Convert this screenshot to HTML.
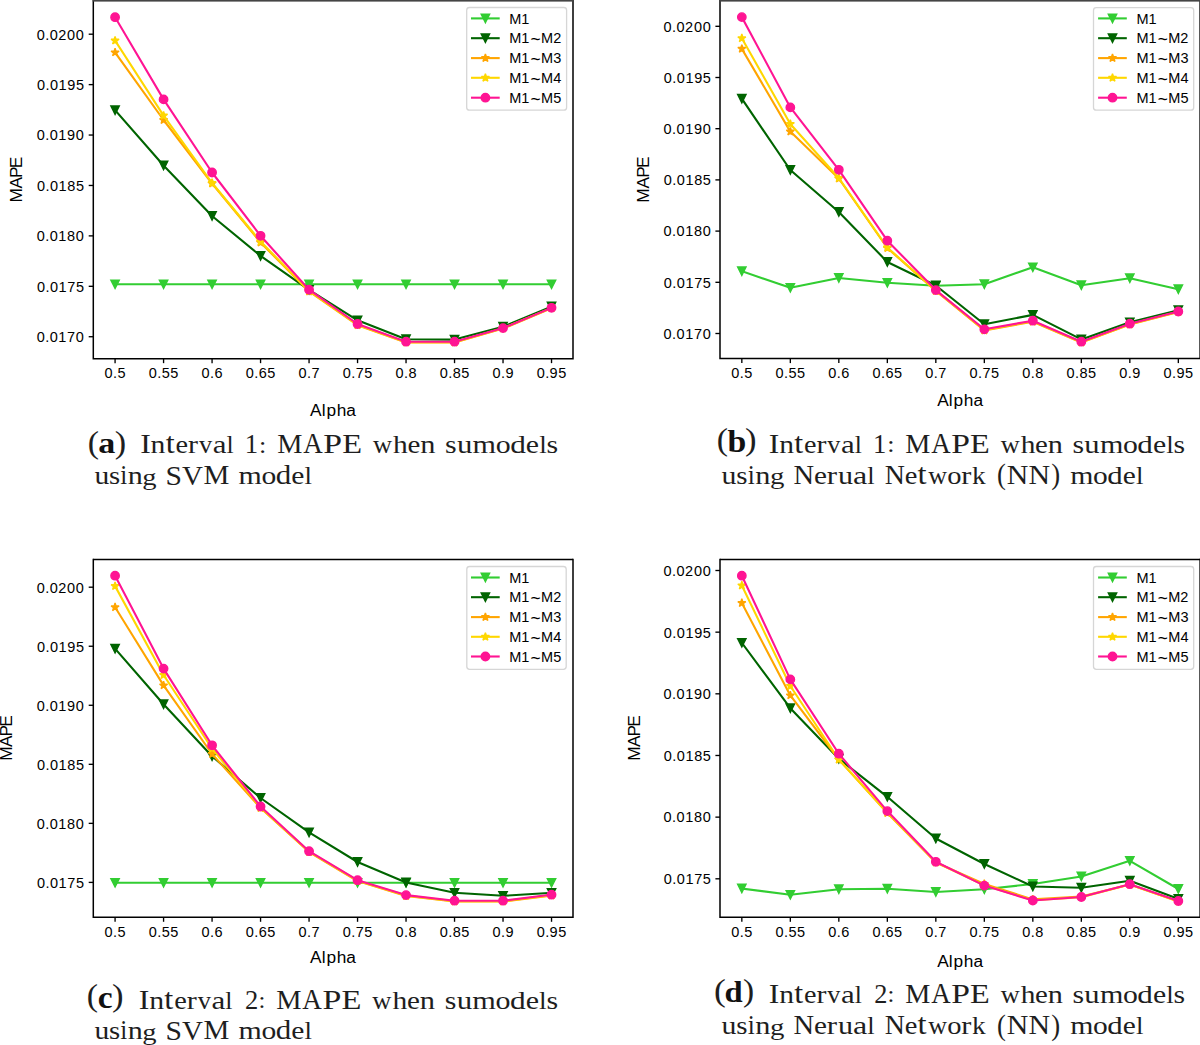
<!DOCTYPE html>
<html><head><meta charset="utf-8"><title>MAPE vs Alpha</title>
<style>
html,body{margin:0;padding:0;background:#fff;}
body{width:1200px;height:1045px;overflow:hidden;}
svg{display:block;}
svg text{font-family:"Liberation Sans", sans-serif;fill:#000;font-kerning:none;white-space:pre;}
svg text.sf{font-family:"Liberation Serif", serif;fill:#1e1e1e;}
svg text.sfb{font-family:"Liberation Serif", serif;font-weight:bold;fill:#111;}
</style></head><body>
<svg width="1200" height="1045" viewBox="0 0 1200 1045">
<defs><clipPath id="clipa"><rect x="87.30" y="-5.60" width="491.70" height="370.25"/></clipPath>
<clipPath id="clipb"><rect x="714.00" y="-5.60" width="492.10" height="370.20"/></clipPath>
<clipPath id="clipc"><rect x="87.30" y="553.40" width="491.70" height="369.90"/></clipPath>
<clipPath id="clipd"><rect x="714.00" y="553.40" width="492.10" height="369.90"/></clipPath></defs>
<rect width="1200" height="1045" fill="#fff"/>
<g clip-path="url(#clipa)">
<path d="M115.08 284.30L163.57 284.30L212.07 284.30L260.56 284.30L309.06 284.30L357.55 284.30L406.04 284.30L454.54 284.30L503.03 284.30L551.53 284.30" fill="none" stroke="#32cd32" stroke-width="2.10" stroke-linejoin="round" stroke-linecap="square"/>
<path d="M110.88 280.10L119.28 280.10L115.08 288.50Z" fill="#32cd32" stroke="#32cd32" stroke-width="1.40" stroke-linejoin="miter"/>
<path d="M159.37 280.10L167.77 280.10L163.57 288.50Z" fill="#32cd32" stroke="#32cd32" stroke-width="1.40" stroke-linejoin="miter"/>
<path d="M207.87 280.10L216.27 280.10L212.07 288.50Z" fill="#32cd32" stroke="#32cd32" stroke-width="1.40" stroke-linejoin="miter"/>
<path d="M256.36 280.10L264.76 280.10L260.56 288.50Z" fill="#32cd32" stroke="#32cd32" stroke-width="1.40" stroke-linejoin="miter"/>
<path d="M304.86 280.10L313.26 280.10L309.06 288.50Z" fill="#32cd32" stroke="#32cd32" stroke-width="1.40" stroke-linejoin="miter"/>
<path d="M353.35 280.10L361.75 280.10L357.55 288.50Z" fill="#32cd32" stroke="#32cd32" stroke-width="1.40" stroke-linejoin="miter"/>
<path d="M401.84 280.10L410.24 280.10L406.04 288.50Z" fill="#32cd32" stroke="#32cd32" stroke-width="1.40" stroke-linejoin="miter"/>
<path d="M450.34 280.10L458.74 280.10L454.54 288.50Z" fill="#32cd32" stroke="#32cd32" stroke-width="1.40" stroke-linejoin="miter"/>
<path d="M498.83 280.10L507.23 280.10L503.03 288.50Z" fill="#32cd32" stroke="#32cd32" stroke-width="1.40" stroke-linejoin="miter"/>
<path d="M547.33 280.10L555.73 280.10L551.53 288.50Z" fill="#32cd32" stroke="#32cd32" stroke-width="1.40" stroke-linejoin="miter"/>
<path d="M115.08 110.20L163.57 165.50L212.07 216.00L260.56 255.90L309.06 289.80L357.55 320.30L406.04 339.20L454.54 339.60L503.03 326.70L551.53 306.50" fill="none" stroke="#006400" stroke-width="2.10" stroke-linejoin="round" stroke-linecap="square"/>
<path d="M110.88 106.00L119.28 106.00L115.08 114.40Z" fill="#006400" stroke="#006400" stroke-width="1.40" stroke-linejoin="miter"/>
<path d="M159.37 161.30L167.77 161.30L163.57 169.70Z" fill="#006400" stroke="#006400" stroke-width="1.40" stroke-linejoin="miter"/>
<path d="M207.87 211.80L216.27 211.80L212.07 220.20Z" fill="#006400" stroke="#006400" stroke-width="1.40" stroke-linejoin="miter"/>
<path d="M256.36 251.70L264.76 251.70L260.56 260.10Z" fill="#006400" stroke="#006400" stroke-width="1.40" stroke-linejoin="miter"/>
<path d="M304.86 285.60L313.26 285.60L309.06 294.00Z" fill="#006400" stroke="#006400" stroke-width="1.40" stroke-linejoin="miter"/>
<path d="M353.35 316.10L361.75 316.10L357.55 324.50Z" fill="#006400" stroke="#006400" stroke-width="1.40" stroke-linejoin="miter"/>
<path d="M401.84 335.00L410.24 335.00L406.04 343.40Z" fill="#006400" stroke="#006400" stroke-width="1.40" stroke-linejoin="miter"/>
<path d="M450.34 335.40L458.74 335.40L454.54 343.80Z" fill="#006400" stroke="#006400" stroke-width="1.40" stroke-linejoin="miter"/>
<path d="M498.83 322.50L507.23 322.50L503.03 330.90Z" fill="#006400" stroke="#006400" stroke-width="1.40" stroke-linejoin="miter"/>
<path d="M547.33 302.30L555.73 302.30L551.53 310.70Z" fill="#006400" stroke="#006400" stroke-width="1.40" stroke-linejoin="miter"/>
<path d="M115.08 52.40L163.57 120.00L212.07 183.50L260.56 242.50L309.06 291.50L357.55 325.20L406.04 342.50L454.54 342.50L503.03 328.60L551.53 308.20" fill="none" stroke="#ffa500" stroke-width="2.10" stroke-linejoin="round" stroke-linecap="square"/>
<path d="M115.08 48.20L116.02 51.10L119.07 51.10L116.61 52.90L117.55 55.80L115.08 54.00L112.61 55.80L113.55 52.90L111.09 51.10L114.14 51.10Z" fill="#ffa500" stroke="#ffa500" stroke-width="1.40" stroke-linejoin="bevel"/>
<path d="M163.57 115.80L164.52 118.70L167.57 118.70L165.10 120.50L166.04 123.40L163.57 121.60L161.11 123.40L162.05 120.50L159.58 118.70L162.63 118.70Z" fill="#ffa500" stroke="#ffa500" stroke-width="1.40" stroke-linejoin="bevel"/>
<path d="M212.07 179.30L213.01 182.20L216.06 182.20L213.59 184.00L214.54 186.90L212.07 185.10L209.60 186.90L210.54 184.00L208.07 182.20L211.13 182.20Z" fill="#ffa500" stroke="#ffa500" stroke-width="1.40" stroke-linejoin="bevel"/>
<path d="M260.56 238.30L261.50 241.20L264.56 241.20L262.09 243.00L263.03 245.90L260.56 244.10L258.09 245.90L259.04 243.00L256.57 241.20L259.62 241.20Z" fill="#ffa500" stroke="#ffa500" stroke-width="1.40" stroke-linejoin="bevel"/>
<path d="M309.06 287.30L310.00 290.20L313.05 290.20L310.58 292.00L311.52 294.90L309.06 293.10L306.59 294.90L307.53 292.00L305.06 290.20L308.11 290.20Z" fill="#ffa500" stroke="#ffa500" stroke-width="1.40" stroke-linejoin="bevel"/>
<path d="M357.55 321.00L358.49 323.90L361.54 323.90L359.08 325.70L360.02 328.60L357.55 326.80L355.08 328.60L356.02 325.70L353.56 323.90L356.61 323.90Z" fill="#ffa500" stroke="#ffa500" stroke-width="1.40" stroke-linejoin="bevel"/>
<path d="M406.04 338.30L406.99 341.20L410.04 341.20L407.57 343.00L408.51 345.90L406.04 344.10L403.58 345.90L404.52 343.00L402.05 341.20L405.10 341.20Z" fill="#ffa500" stroke="#ffa500" stroke-width="1.40" stroke-linejoin="bevel"/>
<path d="M454.54 338.30L455.48 341.20L458.53 341.20L456.06 343.00L457.01 345.90L454.54 344.10L452.07 345.90L453.01 343.00L450.54 341.20L453.60 341.20Z" fill="#ffa500" stroke="#ffa500" stroke-width="1.40" stroke-linejoin="bevel"/>
<path d="M503.03 324.40L503.97 327.30L507.03 327.30L504.56 329.10L505.50 332.00L503.03 330.20L500.56 332.00L501.51 329.10L499.04 327.30L502.09 327.30Z" fill="#ffa500" stroke="#ffa500" stroke-width="1.40" stroke-linejoin="bevel"/>
<path d="M551.53 304.00L552.47 306.90L555.52 306.90L553.05 308.70L553.99 311.60L551.53 309.80L549.06 311.60L550.00 308.70L547.53 306.90L550.58 306.90Z" fill="#ffa500" stroke="#ffa500" stroke-width="1.40" stroke-linejoin="bevel"/>
<path d="M115.08 40.60L163.57 115.60L212.07 183.00L260.56 241.50L309.06 291.00L357.55 324.70L406.04 342.20L454.54 342.20L503.03 328.30L551.53 308.00" fill="none" stroke="#ffd700" stroke-width="2.10" stroke-linejoin="round" stroke-linecap="square"/>
<path d="M115.08 36.40L116.02 39.30L119.07 39.30L116.61 41.10L117.55 44.00L115.08 42.20L112.61 44.00L113.55 41.10L111.09 39.30L114.14 39.30Z" fill="#ffd700" stroke="#ffd700" stroke-width="1.40" stroke-linejoin="bevel"/>
<path d="M163.57 111.40L164.52 114.30L167.57 114.30L165.10 116.10L166.04 119.00L163.57 117.20L161.11 119.00L162.05 116.10L159.58 114.30L162.63 114.30Z" fill="#ffd700" stroke="#ffd700" stroke-width="1.40" stroke-linejoin="bevel"/>
<path d="M212.07 178.80L213.01 181.70L216.06 181.70L213.59 183.50L214.54 186.40L212.07 184.60L209.60 186.40L210.54 183.50L208.07 181.70L211.13 181.70Z" fill="#ffd700" stroke="#ffd700" stroke-width="1.40" stroke-linejoin="bevel"/>
<path d="M260.56 237.30L261.50 240.20L264.56 240.20L262.09 242.00L263.03 244.90L260.56 243.10L258.09 244.90L259.04 242.00L256.57 240.20L259.62 240.20Z" fill="#ffd700" stroke="#ffd700" stroke-width="1.40" stroke-linejoin="bevel"/>
<path d="M309.06 286.80L310.00 289.70L313.05 289.70L310.58 291.50L311.52 294.40L309.06 292.60L306.59 294.40L307.53 291.50L305.06 289.70L308.11 289.70Z" fill="#ffd700" stroke="#ffd700" stroke-width="1.40" stroke-linejoin="bevel"/>
<path d="M357.55 320.50L358.49 323.40L361.54 323.40L359.08 325.20L360.02 328.10L357.55 326.30L355.08 328.10L356.02 325.20L353.56 323.40L356.61 323.40Z" fill="#ffd700" stroke="#ffd700" stroke-width="1.40" stroke-linejoin="bevel"/>
<path d="M406.04 338.00L406.99 340.90L410.04 340.90L407.57 342.70L408.51 345.60L406.04 343.80L403.58 345.60L404.52 342.70L402.05 340.90L405.10 340.90Z" fill="#ffd700" stroke="#ffd700" stroke-width="1.40" stroke-linejoin="bevel"/>
<path d="M454.54 338.00L455.48 340.90L458.53 340.90L456.06 342.70L457.01 345.60L454.54 343.80L452.07 345.60L453.01 342.70L450.54 340.90L453.60 340.90Z" fill="#ffd700" stroke="#ffd700" stroke-width="1.40" stroke-linejoin="bevel"/>
<path d="M503.03 324.10L503.97 327.00L507.03 327.00L504.56 328.80L505.50 331.70L503.03 329.90L500.56 331.70L501.51 328.80L499.04 327.00L502.09 327.00Z" fill="#ffd700" stroke="#ffd700" stroke-width="1.40" stroke-linejoin="bevel"/>
<path d="M551.53 303.80L552.47 306.70L555.52 306.70L553.05 308.50L553.99 311.40L551.53 309.60L549.06 311.40L550.00 308.50L547.53 306.70L550.58 306.70Z" fill="#ffd700" stroke="#ffd700" stroke-width="1.40" stroke-linejoin="bevel"/>
<path d="M115.08 17.20L163.57 99.40L212.07 172.50L260.56 235.80L309.06 289.70L357.55 324.00L406.04 341.70L454.54 341.70L503.03 328.10L551.53 307.80" fill="none" stroke="#ff1493" stroke-width="2.10" stroke-linejoin="round" stroke-linecap="square"/>
<circle cx="115.08" cy="17.20" r="4.20" fill="#ff1493" stroke="#ff1493" stroke-width="1.40"/>
<circle cx="163.57" cy="99.40" r="4.20" fill="#ff1493" stroke="#ff1493" stroke-width="1.40"/>
<circle cx="212.07" cy="172.50" r="4.20" fill="#ff1493" stroke="#ff1493" stroke-width="1.40"/>
<circle cx="260.56" cy="235.80" r="4.20" fill="#ff1493" stroke="#ff1493" stroke-width="1.40"/>
<circle cx="309.06" cy="289.70" r="4.20" fill="#ff1493" stroke="#ff1493" stroke-width="1.40"/>
<circle cx="357.55" cy="324.00" r="4.20" fill="#ff1493" stroke="#ff1493" stroke-width="1.40"/>
<circle cx="406.04" cy="341.70" r="4.20" fill="#ff1493" stroke="#ff1493" stroke-width="1.40"/>
<circle cx="454.54" cy="341.70" r="4.20" fill="#ff1493" stroke="#ff1493" stroke-width="1.40"/>
<circle cx="503.03" cy="328.10" r="4.20" fill="#ff1493" stroke="#ff1493" stroke-width="1.40"/>
<circle cx="551.53" cy="307.80" r="4.20" fill="#ff1493" stroke="#ff1493" stroke-width="1.40"/>
</g>
<path d="M93.30 0.40V358.65H573.00V0.40" fill="none" stroke="#000" stroke-width="1.50" stroke-linecap="square"/>
<rect x="92.70" y="0" width="480.90" height="1.6" fill="#454545"/>
<path d="M115.08 358.65V363.15" stroke="#000" stroke-width="1.35"/>
<text x="104.53 113.06 117.50" y="378.30" font-size="14.50">0.5</text>
<path d="M163.57 358.65V363.15" stroke="#000" stroke-width="1.35"/>
<text x="148.68 157.21 161.66 170.34" y="378.30" font-size="14.50">0.55</text>
<path d="M212.07 358.65V363.15" stroke="#000" stroke-width="1.35"/>
<text x="201.52 210.05 214.54" y="378.30" font-size="14.50">0.6</text>
<path d="M260.56 358.65V363.15" stroke="#000" stroke-width="1.35"/>
<text x="245.67 254.20 258.70 267.33" y="378.30" font-size="14.50">0.65</text>
<path d="M309.06 358.65V363.15" stroke="#000" stroke-width="1.35"/>
<text x="298.51 307.04 311.51" y="378.30" font-size="14.50">0.7</text>
<path d="M357.55 358.65V363.15" stroke="#000" stroke-width="1.35"/>
<text x="342.66 351.19 355.66 364.32" y="378.30" font-size="14.50">0.75</text>
<path d="M406.04 358.65V363.15" stroke="#000" stroke-width="1.35"/>
<text x="395.50 404.02 408.52" y="378.30" font-size="14.50">0.8</text>
<path d="M454.54 358.65V363.15" stroke="#000" stroke-width="1.35"/>
<text x="439.65 448.17 452.67 461.30" y="378.30" font-size="14.50">0.85</text>
<path d="M503.03 358.65V363.15" stroke="#000" stroke-width="1.35"/>
<text x="492.48 501.01 505.47" y="378.30" font-size="14.50">0.9</text>
<path d="M551.53 358.65V363.15" stroke="#000" stroke-width="1.35"/>
<text x="536.64 545.16 549.62 558.29" y="378.30" font-size="14.50">0.95</text>
<path d="M88.70 34.20H93.30" stroke="#000" stroke-width="1.35"/>
<text x="36.65 45.18 49.68 58.18 67.04 75.73" y="39.55" font-size="14.50">0.0200</text>
<path d="M88.70 84.62H93.30" stroke="#000" stroke-width="1.35"/>
<text x="36.94 45.46 49.96 58.57 67.29 75.96" y="89.97" font-size="14.50">0.0195</text>
<path d="M88.70 135.04H93.30" stroke="#000" stroke-width="1.35"/>
<text x="36.65 45.18 49.68 58.28 67.00 75.73" y="140.39" font-size="14.50">0.0190</text>
<path d="M88.70 185.46H93.30" stroke="#000" stroke-width="1.35"/>
<text x="36.94 45.46 49.96 58.57 67.33 75.96" y="190.81" font-size="14.50">0.0185</text>
<path d="M88.70 235.88H93.30" stroke="#000" stroke-width="1.35"/>
<text x="36.65 45.18 49.68 58.28 67.04 75.73" y="241.23" font-size="14.50">0.0180</text>
<path d="M88.70 286.30H93.30" stroke="#000" stroke-width="1.35"/>
<text x="36.94 45.46 49.96 58.57 67.30 75.96" y="291.65" font-size="14.50">0.0175</text>
<path d="M88.70 336.72H93.30" stroke="#000" stroke-width="1.35"/>
<text x="36.65 45.18 49.68 58.28 67.02 75.73" y="342.07" font-size="14.50">0.0170</text>
<text x="310.05 321.77 326.44 336.72 346.28" y="416.00" font-size="17.30">Alpha</text>
<text transform="translate(21.50 0) rotate(-90)" x="-202.59 -188.62 -177.91 -168.22" y="0.00" font-size="17.30">MAPE</text>
<rect x="466.70" y="7.50" width="99.90" height="102.70" rx="2.8" ry="2.8" fill="#fff" fill-opacity="0.8" stroke="#d6d6d6" stroke-width="1.3"/>
<path d="M471.00 18.40H499.70" stroke="#32cd32" stroke-width="2.10"/>
<path d="M481.20 14.20L489.60 14.20L485.40 22.60Z" fill="#32cd32" stroke="#32cd32" stroke-width="1.40" stroke-linejoin="miter"/>
<text x="509.21 521.37" y="23.50" font-size="14.50">M1</text>
<path d="M471.00 38.20H499.70" stroke="#006400" stroke-width="2.10"/>
<path d="M481.20 34.00L489.60 34.00L485.40 42.40Z" fill="#006400" stroke="#006400" stroke-width="1.40" stroke-linejoin="miter"/>
<text x="509.21 521.37 541.11 553.16" y="43.30" font-size="14.50">M1M2</text>
<text transform="matrix(0.17292 0 0 0.18809 530.492 45.266)" x="0" y="0" font-size="100.0">~</text>
<path d="M471.00 58.10H499.70" stroke="#ffa500" stroke-width="2.10"/>
<path d="M485.40 53.90L486.34 56.80L489.39 56.80L486.93 58.60L487.87 61.50L485.40 59.70L482.93 61.50L483.87 58.60L481.41 56.80L484.46 56.80Z" fill="#ffa500" stroke="#ffa500" stroke-width="1.40" stroke-linejoin="bevel"/>
<text x="509.21 521.37 541.11 553.36" y="63.20" font-size="14.50">M1M3</text>
<text transform="matrix(0.17292 0 0 0.18809 530.492 65.166)" x="0" y="0" font-size="100.0">~</text>
<path d="M471.00 77.80H499.70" stroke="#ffd700" stroke-width="2.10"/>
<path d="M485.40 73.60L486.34 76.50L489.39 76.50L486.93 78.30L487.87 81.20L485.40 79.40L482.93 81.20L483.87 78.30L481.41 76.50L484.46 76.50Z" fill="#ffd700" stroke="#ffd700" stroke-width="1.40" stroke-linejoin="bevel"/>
<text x="509.21 521.37 541.11 553.34" y="82.90" font-size="14.50">M1M4</text>
<text transform="matrix(0.17292 0 0 0.18809 530.492 84.866)" x="0" y="0" font-size="100.0">~</text>
<path d="M471.00 97.70H499.70" stroke="#ff1493" stroke-width="2.10"/>
<circle cx="485.40" cy="97.70" r="4.20" fill="#ff1493" stroke="#ff1493" stroke-width="1.40"/>
<text x="509.21 521.37 541.11 553.29" y="102.80" font-size="14.50">M1M5</text>
<text transform="matrix(0.17292 0 0 0.18809 530.492 104.766)" x="0" y="0" font-size="100.0">~</text>
<g role="img" aria-label="(a) Interval 1: MAPE when sumodels using SVM model">
<text class="sf" transform="matrix(0.33874 0 0 0.31045 87.711 453.141)" x="0" y="0" font-size="100.0">(</text>
<text class="sfb" transform="matrix(0.34023 0 0 0.29854 98.304 453.408)" x="0" y="0" font-size="100.0">a</text>
<text class="sf" transform="matrix(0.34263 0 0 0.31045 114.696 453.141)" x="0" y="0" font-size="100.0">)</text>
<text class="sf" transform="matrix(0.31880 0 0 0.27333 140.248 452.900)" x="0" y="0" font-size="100.0">I</text>
<text class="sf" transform="matrix(0.29648 0 0 0.24571 150.566 452.900)" x="0" y="0" font-size="100.0">n</text>
<text class="sf" transform="matrix(0.32223 0 0 0.28657 165.628 452.914)" x="0" y="0" font-size="100.0">t</text>
<text class="sf" transform="matrix(0.28241 0 0 0.25030 175.556 452.950)" x="0" y="0" font-size="100.0">e</text>
<text class="sf" transform="matrix(0.29984 0 0 0.24571 187.988 452.900)" x="0" y="0" font-size="100.0">r</text>
<text class="sf" transform="matrix(0.26388 0 0 0.24726 198.961 452.953)" x="0" y="0" font-size="100.0">v</text>
<text class="sf" transform="matrix(0.30965 0 0 0.25132 212.662 452.949)" x="0" y="0" font-size="100.0">a</text>
<text class="sf" transform="matrix(0.25664 0 0 0.26200 226.483 452.900)" x="0" y="0" font-size="100.0">l</text>
<text class="sf" transform="matrix(0.26729 0 0 0.26433 244.851 452.900)" x="0" y="0" font-size="100.0">1</text>
<text class="sf" transform="matrix(0.26304 0 0 0.23368 259.124 452.569)" x="0" y="0" font-size="100.0">:</text>
<text class="sf" transform="matrix(0.28335 0 0 0.27333 277.184 452.900)" x="0" y="0" font-size="100.0">M</text>
<text class="sf" transform="matrix(0.27035 0 0 0.28409 303.160 452.900)" x="0" y="0" font-size="100.0">A</text>
<text class="sf" transform="matrix(0.33759 0 0 0.27333 323.362 452.900)" x="0" y="0" font-size="100.0">P</text>
<text class="sf" transform="matrix(0.32494 0 0 0.27333 342.270 452.900)" x="0" y="0" font-size="100.0">E</text>
<text class="sf" transform="matrix(0.26450 0 0 0.24726 372.974 452.953)" x="0" y="0" font-size="100.0">w</text>
<text class="sf" transform="matrix(0.29432 0 0 0.26200 393.023 452.900)" x="0" y="0" font-size="100.0">h</text>
<text class="sf" transform="matrix(0.28954 0 0 0.25030 407.491 452.950)" x="0" y="0" font-size="100.0">e</text>
<text class="sf" transform="matrix(0.30396 0 0 0.24571 420.262 452.900)" x="0" y="0" font-size="100.0">n</text>
<text class="sf" transform="matrix(0.29847 0 0 0.25030 445.026 452.950)" x="0" y="0" font-size="100.0">s</text>
<text class="sf" transform="matrix(0.30791 0 0 0.25327 456.980 452.947)" x="0" y="0" font-size="100.0">u</text>
<text class="sf" transform="matrix(0.30199 0 0 0.24571 472.580 452.900)" x="0" y="0" font-size="100.0">m</text>
<text class="sf" transform="matrix(0.29823 0 0 0.25030 495.770 452.950)" x="0" y="0" font-size="100.0">o</text>
<text class="sf" transform="matrix(0.31283 0 0 0.26255 510.183 452.938)" x="0" y="0" font-size="100.0">d</text>
<text class="sf" transform="matrix(0.29825 0 0 0.25030 525.823 452.950)" x="0" y="0" font-size="100.0">e</text>
<text class="sf" transform="matrix(0.27104 0 0 0.26200 539.182 452.900)" x="0" y="0" font-size="100.0">l</text>
<text class="sf" transform="matrix(0.29847 0 0 0.25030 546.463 452.950)" x="0" y="0" font-size="100.0">s</text>
<text class="sf" transform="matrix(0.29605 0 0 0.25327 94.410 484.447)" x="0" y="0" font-size="100.0">u</text>
<text class="sf" transform="matrix(0.28698 0 0 0.25030 108.935 484.450)" x="0" y="0" font-size="100.0">s</text>
<text class="sf" transform="matrix(0.25160 0 0 0.26471 120.318 484.400)" x="0" y="0" font-size="100.0">i</text>
<text class="sf" transform="matrix(0.30106 0 0 0.24571 127.717 484.400)" x="0" y="0" font-size="100.0">n</text>
<text class="sf" transform="matrix(0.28603 0 0 0.23691 142.343 484.686)" x="0" y="0" font-size="100.0">g</text>
<text class="sf" transform="matrix(0.29590 0 0 0.28352 165.621 484.699)" x="0" y="0" font-size="100.0">S</text>
<text class="sf" transform="matrix(0.29004 0 0 0.27575 182.063 484.558)" x="0" y="0" font-size="100.0">V</text>
<text class="sf" transform="matrix(0.29049 0 0 0.27333 203.422 484.400)" x="0" y="0" font-size="100.0">M</text>
<text class="sf" transform="matrix(0.29927 0 0 0.24571 238.472 484.400)" x="0" y="0" font-size="100.0">m</text>
<text class="sf" transform="matrix(0.29554 0 0 0.25030 261.454 484.450)" x="0" y="0" font-size="100.0">o</text>
<text class="sf" transform="matrix(0.31001 0 0 0.26255 275.737 484.438)" x="0" y="0" font-size="100.0">d</text>
<text class="sf" transform="matrix(0.29557 0 0 0.25030 291.236 484.450)" x="0" y="0" font-size="100.0">e</text>
<text class="sf" transform="matrix(0.26860 0 0 0.26200 304.475 484.400)" x="0" y="0" font-size="100.0">l</text>
</g>
<g clip-path="url(#clipb)">
<path d="M741.83 271.20L790.33 287.80L838.83 278.00L887.33 282.80L935.83 285.80L984.33 284.20L1032.83 267.30L1081.33 285.20L1129.83 278.20L1178.33 289.20" fill="none" stroke="#32cd32" stroke-width="2.10" stroke-linejoin="round" stroke-linecap="square"/>
<path d="M737.63 267.00L746.03 267.00L741.83 275.40Z" fill="#32cd32" stroke="#32cd32" stroke-width="1.40" stroke-linejoin="miter"/>
<path d="M786.13 283.60L794.53 283.60L790.33 292.00Z" fill="#32cd32" stroke="#32cd32" stroke-width="1.40" stroke-linejoin="miter"/>
<path d="M834.63 273.80L843.03 273.80L838.83 282.20Z" fill="#32cd32" stroke="#32cd32" stroke-width="1.40" stroke-linejoin="miter"/>
<path d="M883.13 278.60L891.53 278.60L887.33 287.00Z" fill="#32cd32" stroke="#32cd32" stroke-width="1.40" stroke-linejoin="miter"/>
<path d="M931.63 281.60L940.03 281.60L935.83 290.00Z" fill="#32cd32" stroke="#32cd32" stroke-width="1.40" stroke-linejoin="miter"/>
<path d="M980.13 280.00L988.53 280.00L984.33 288.40Z" fill="#32cd32" stroke="#32cd32" stroke-width="1.40" stroke-linejoin="miter"/>
<path d="M1028.63 263.10L1037.03 263.10L1032.83 271.50Z" fill="#32cd32" stroke="#32cd32" stroke-width="1.40" stroke-linejoin="miter"/>
<path d="M1077.13 281.00L1085.53 281.00L1081.33 289.40Z" fill="#32cd32" stroke="#32cd32" stroke-width="1.40" stroke-linejoin="miter"/>
<path d="M1125.63 274.00L1134.03 274.00L1129.83 282.40Z" fill="#32cd32" stroke="#32cd32" stroke-width="1.40" stroke-linejoin="miter"/>
<path d="M1174.13 285.00L1182.53 285.00L1178.33 293.40Z" fill="#32cd32" stroke="#32cd32" stroke-width="1.40" stroke-linejoin="miter"/>
<path d="M741.83 98.70L790.33 170.00L838.83 212.00L887.33 262.00L935.83 285.50L984.33 324.20L1032.83 314.90L1081.33 339.40L1129.83 322.30L1178.33 310.20" fill="none" stroke="#006400" stroke-width="2.10" stroke-linejoin="round" stroke-linecap="square"/>
<path d="M737.63 94.50L746.03 94.50L741.83 102.90Z" fill="#006400" stroke="#006400" stroke-width="1.40" stroke-linejoin="miter"/>
<path d="M786.13 165.80L794.53 165.80L790.33 174.20Z" fill="#006400" stroke="#006400" stroke-width="1.40" stroke-linejoin="miter"/>
<path d="M834.63 207.80L843.03 207.80L838.83 216.20Z" fill="#006400" stroke="#006400" stroke-width="1.40" stroke-linejoin="miter"/>
<path d="M883.13 257.80L891.53 257.80L887.33 266.20Z" fill="#006400" stroke="#006400" stroke-width="1.40" stroke-linejoin="miter"/>
<path d="M931.63 281.30L940.03 281.30L935.83 289.70Z" fill="#006400" stroke="#006400" stroke-width="1.40" stroke-linejoin="miter"/>
<path d="M980.13 320.00L988.53 320.00L984.33 328.40Z" fill="#006400" stroke="#006400" stroke-width="1.40" stroke-linejoin="miter"/>
<path d="M1028.63 310.70L1037.03 310.70L1032.83 319.10Z" fill="#006400" stroke="#006400" stroke-width="1.40" stroke-linejoin="miter"/>
<path d="M1077.13 335.20L1085.53 335.20L1081.33 343.60Z" fill="#006400" stroke="#006400" stroke-width="1.40" stroke-linejoin="miter"/>
<path d="M1125.63 318.10L1134.03 318.10L1129.83 326.50Z" fill="#006400" stroke="#006400" stroke-width="1.40" stroke-linejoin="miter"/>
<path d="M1174.13 306.00L1182.53 306.00L1178.33 314.40Z" fill="#006400" stroke="#006400" stroke-width="1.40" stroke-linejoin="miter"/>
<path d="M741.83 48.80L790.33 131.60L838.83 178.50L887.33 248.00L935.83 291.00L984.33 330.50L1032.83 321.70L1081.33 342.50L1129.83 324.50L1178.33 312.00" fill="none" stroke="#ffa500" stroke-width="2.10" stroke-linejoin="round" stroke-linecap="square"/>
<path d="M741.83 44.60L742.77 47.50L745.82 47.50L743.36 49.30L744.30 52.20L741.83 50.40L739.36 52.20L740.30 49.30L737.84 47.50L740.89 47.50Z" fill="#ffa500" stroke="#ffa500" stroke-width="1.40" stroke-linejoin="bevel"/>
<path d="M790.33 127.40L791.27 130.30L794.32 130.30L791.86 132.10L792.80 135.00L790.33 133.20L787.86 135.00L788.80 132.10L786.34 130.30L789.39 130.30Z" fill="#ffa500" stroke="#ffa500" stroke-width="1.40" stroke-linejoin="bevel"/>
<path d="M838.83 174.30L839.77 177.20L842.82 177.20L840.36 179.00L841.30 181.90L838.83 180.10L836.36 181.90L837.30 179.00L834.84 177.20L837.89 177.20Z" fill="#ffa500" stroke="#ffa500" stroke-width="1.40" stroke-linejoin="bevel"/>
<path d="M887.33 243.80L888.27 246.70L891.32 246.70L888.86 248.50L889.80 251.40L887.33 249.60L884.86 251.40L885.80 248.50L883.34 246.70L886.39 246.70Z" fill="#ffa500" stroke="#ffa500" stroke-width="1.40" stroke-linejoin="bevel"/>
<path d="M935.83 286.80L936.77 289.70L939.82 289.70L937.36 291.50L938.30 294.40L935.83 292.60L933.36 294.40L934.30 291.50L931.84 289.70L934.89 289.70Z" fill="#ffa500" stroke="#ffa500" stroke-width="1.40" stroke-linejoin="bevel"/>
<path d="M984.33 326.30L985.27 329.20L988.32 329.20L985.86 331.00L986.80 333.90L984.33 332.10L981.86 333.90L982.80 331.00L980.34 329.20L983.39 329.20Z" fill="#ffa500" stroke="#ffa500" stroke-width="1.40" stroke-linejoin="bevel"/>
<path d="M1032.83 317.50L1033.77 320.40L1036.82 320.40L1034.36 322.20L1035.30 325.10L1032.83 323.30L1030.36 325.10L1031.30 322.20L1028.84 320.40L1031.89 320.40Z" fill="#ffa500" stroke="#ffa500" stroke-width="1.40" stroke-linejoin="bevel"/>
<path d="M1081.33 338.30L1082.27 341.20L1085.32 341.20L1082.86 343.00L1083.80 345.90L1081.33 344.10L1078.86 345.90L1079.80 343.00L1077.34 341.20L1080.39 341.20Z" fill="#ffa500" stroke="#ffa500" stroke-width="1.40" stroke-linejoin="bevel"/>
<path d="M1129.83 320.30L1130.77 323.20L1133.82 323.20L1131.36 325.00L1132.30 327.90L1129.83 326.10L1127.36 327.90L1128.30 325.00L1125.84 323.20L1128.89 323.20Z" fill="#ffa500" stroke="#ffa500" stroke-width="1.40" stroke-linejoin="bevel"/>
<path d="M1178.33 307.80L1179.27 310.70L1182.32 310.70L1179.86 312.50L1180.80 315.40L1178.33 313.60L1175.86 315.40L1176.80 312.50L1174.34 310.70L1177.39 310.70Z" fill="#ffa500" stroke="#ffa500" stroke-width="1.40" stroke-linejoin="bevel"/>
<path d="M741.83 38.20L790.33 124.00L838.83 178.00L887.33 247.60L935.83 290.50L984.33 330.00L1032.83 321.20L1081.33 342.20L1129.83 324.20L1178.33 311.70" fill="none" stroke="#ffd700" stroke-width="2.10" stroke-linejoin="round" stroke-linecap="square"/>
<path d="M741.83 34.00L742.77 36.90L745.82 36.90L743.36 38.70L744.30 41.60L741.83 39.80L739.36 41.60L740.30 38.70L737.84 36.90L740.89 36.90Z" fill="#ffd700" stroke="#ffd700" stroke-width="1.40" stroke-linejoin="bevel"/>
<path d="M790.33 119.80L791.27 122.70L794.32 122.70L791.86 124.50L792.80 127.40L790.33 125.60L787.86 127.40L788.80 124.50L786.34 122.70L789.39 122.70Z" fill="#ffd700" stroke="#ffd700" stroke-width="1.40" stroke-linejoin="bevel"/>
<path d="M838.83 173.80L839.77 176.70L842.82 176.70L840.36 178.50L841.30 181.40L838.83 179.60L836.36 181.40L837.30 178.50L834.84 176.70L837.89 176.70Z" fill="#ffd700" stroke="#ffd700" stroke-width="1.40" stroke-linejoin="bevel"/>
<path d="M887.33 243.40L888.27 246.30L891.32 246.30L888.86 248.10L889.80 251.00L887.33 249.20L884.86 251.00L885.80 248.10L883.34 246.30L886.39 246.30Z" fill="#ffd700" stroke="#ffd700" stroke-width="1.40" stroke-linejoin="bevel"/>
<path d="M935.83 286.30L936.77 289.20L939.82 289.20L937.36 291.00L938.30 293.90L935.83 292.10L933.36 293.90L934.30 291.00L931.84 289.20L934.89 289.20Z" fill="#ffd700" stroke="#ffd700" stroke-width="1.40" stroke-linejoin="bevel"/>
<path d="M984.33 325.80L985.27 328.70L988.32 328.70L985.86 330.50L986.80 333.40L984.33 331.60L981.86 333.40L982.80 330.50L980.34 328.70L983.39 328.70Z" fill="#ffd700" stroke="#ffd700" stroke-width="1.40" stroke-linejoin="bevel"/>
<path d="M1032.83 317.00L1033.77 319.90L1036.82 319.90L1034.36 321.70L1035.30 324.60L1032.83 322.80L1030.36 324.60L1031.30 321.70L1028.84 319.90L1031.89 319.90Z" fill="#ffd700" stroke="#ffd700" stroke-width="1.40" stroke-linejoin="bevel"/>
<path d="M1081.33 338.00L1082.27 340.90L1085.32 340.90L1082.86 342.70L1083.80 345.60L1081.33 343.80L1078.86 345.60L1079.80 342.70L1077.34 340.90L1080.39 340.90Z" fill="#ffd700" stroke="#ffd700" stroke-width="1.40" stroke-linejoin="bevel"/>
<path d="M1129.83 320.00L1130.77 322.90L1133.82 322.90L1131.36 324.70L1132.30 327.60L1129.83 325.80L1127.36 327.60L1128.30 324.70L1125.84 322.90L1128.89 322.90Z" fill="#ffd700" stroke="#ffd700" stroke-width="1.40" stroke-linejoin="bevel"/>
<path d="M1178.33 307.50L1179.27 310.40L1182.32 310.40L1179.86 312.20L1180.80 315.10L1178.33 313.30L1175.86 315.10L1176.80 312.20L1174.34 310.40L1177.39 310.40Z" fill="#ffd700" stroke="#ffd700" stroke-width="1.40" stroke-linejoin="bevel"/>
<path d="M741.83 17.10L790.33 107.40L838.83 169.80L887.33 240.70L935.83 290.10L984.33 329.30L1032.83 320.70L1081.33 341.70L1129.83 323.70L1178.33 311.50" fill="none" stroke="#ff1493" stroke-width="2.10" stroke-linejoin="round" stroke-linecap="square"/>
<circle cx="741.83" cy="17.10" r="4.20" fill="#ff1493" stroke="#ff1493" stroke-width="1.40"/>
<circle cx="790.33" cy="107.40" r="4.20" fill="#ff1493" stroke="#ff1493" stroke-width="1.40"/>
<circle cx="838.83" cy="169.80" r="4.20" fill="#ff1493" stroke="#ff1493" stroke-width="1.40"/>
<circle cx="887.33" cy="240.70" r="4.20" fill="#ff1493" stroke="#ff1493" stroke-width="1.40"/>
<circle cx="935.83" cy="290.10" r="4.20" fill="#ff1493" stroke="#ff1493" stroke-width="1.40"/>
<circle cx="984.33" cy="329.30" r="4.20" fill="#ff1493" stroke="#ff1493" stroke-width="1.40"/>
<circle cx="1032.83" cy="320.70" r="4.20" fill="#ff1493" stroke="#ff1493" stroke-width="1.40"/>
<circle cx="1081.33" cy="341.70" r="4.20" fill="#ff1493" stroke="#ff1493" stroke-width="1.40"/>
<circle cx="1129.83" cy="323.70" r="4.20" fill="#ff1493" stroke="#ff1493" stroke-width="1.40"/>
<circle cx="1178.33" cy="311.50" r="4.20" fill="#ff1493" stroke="#ff1493" stroke-width="1.40"/>
</g>
<path d="M720.00 0.40V358.60H1200.10V0.40" fill="none" stroke="#000" stroke-width="1.50" stroke-linecap="square"/>
<rect x="719.40" y="0" width="481.30" height="1.6" fill="#454545"/>
<path d="M741.83 358.60V363.10" stroke="#000" stroke-width="1.35"/>
<text x="731.28 739.81 744.25" y="378.30" font-size="14.50">0.5</text>
<path d="M790.33 358.60V363.10" stroke="#000" stroke-width="1.35"/>
<text x="775.44 783.97 788.41 797.10" y="378.30" font-size="14.50">0.55</text>
<path d="M838.83 358.60V363.10" stroke="#000" stroke-width="1.35"/>
<text x="828.28 836.81 841.31" y="378.30" font-size="14.50">0.6</text>
<path d="M887.33 358.60V363.10" stroke="#000" stroke-width="1.35"/>
<text x="872.44 880.97 885.46 894.10" y="378.30" font-size="14.50">0.65</text>
<path d="M935.83 358.60V363.10" stroke="#000" stroke-width="1.35"/>
<text x="925.28 933.81 938.28" y="378.30" font-size="14.50">0.7</text>
<path d="M984.33 358.60V363.10" stroke="#000" stroke-width="1.35"/>
<text x="969.44 977.97 982.44 991.10" y="378.30" font-size="14.50">0.75</text>
<path d="M1032.83 358.60V363.10" stroke="#000" stroke-width="1.35"/>
<text x="1022.28 1030.81 1035.31" y="378.30" font-size="14.50">0.8</text>
<path d="M1081.33 358.60V363.10" stroke="#000" stroke-width="1.35"/>
<text x="1066.44 1074.97 1079.46 1088.10" y="378.30" font-size="14.50">0.85</text>
<path d="M1129.83 358.60V363.10" stroke="#000" stroke-width="1.35"/>
<text x="1119.28 1127.81 1132.26" y="378.30" font-size="14.50">0.9</text>
<path d="M1178.33 358.60V363.10" stroke="#000" stroke-width="1.35"/>
<text x="1163.44 1171.97 1176.42 1185.10" y="378.30" font-size="14.50">0.95</text>
<path d="M715.40 26.30H720.00" stroke="#000" stroke-width="1.35"/>
<text x="663.55 672.08 676.58 685.08 693.94 702.63" y="31.65" font-size="14.50">0.0200</text>
<path d="M715.40 77.50H720.00" stroke="#000" stroke-width="1.35"/>
<text x="663.84 672.36 676.86 685.47 694.19 702.86" y="82.85" font-size="14.50">0.0195</text>
<path d="M715.40 128.70H720.00" stroke="#000" stroke-width="1.35"/>
<text x="663.55 672.08 676.58 685.18 693.90 702.63" y="134.05" font-size="14.50">0.0190</text>
<path d="M715.40 179.90H720.00" stroke="#000" stroke-width="1.35"/>
<text x="663.84 672.36 676.86 685.47 694.23 702.86" y="185.25" font-size="14.50">0.0185</text>
<path d="M715.40 231.10H720.00" stroke="#000" stroke-width="1.35"/>
<text x="663.55 672.08 676.58 685.18 693.94 702.63" y="236.45" font-size="14.50">0.0180</text>
<path d="M715.40 282.30H720.00" stroke="#000" stroke-width="1.35"/>
<text x="663.84 672.36 676.86 685.47 694.20 702.86" y="287.65" font-size="14.50">0.0175</text>
<path d="M715.40 333.50H720.00" stroke="#000" stroke-width="1.35"/>
<text x="663.55 672.08 676.58 685.18 693.92 702.63" y="338.85" font-size="14.50">0.0170</text>
<text x="937.15 948.87 953.54 963.82 973.38" y="405.70" font-size="17.30">Alpha</text>
<text transform="translate(649.40 0) rotate(-90)" x="-202.64 -188.55 -177.74 -167.95" y="0.00" font-size="17.30">MAPE</text>
<rect x="1093.50" y="7.70" width="100.20" height="102.50" rx="2.8" ry="2.8" fill="#fff" fill-opacity="0.8" stroke="#d6d6d6" stroke-width="1.3"/>
<path d="M1098.10 18.40H1126.80" stroke="#32cd32" stroke-width="2.10"/>
<path d="M1108.30 14.20L1116.70 14.20L1112.50 22.60Z" fill="#32cd32" stroke="#32cd32" stroke-width="1.40" stroke-linejoin="miter"/>
<text x="1136.41 1148.57" y="23.50" font-size="14.50">M1</text>
<path d="M1098.10 38.20H1126.80" stroke="#006400" stroke-width="2.10"/>
<path d="M1108.30 34.00L1116.70 34.00L1112.50 42.40Z" fill="#006400" stroke="#006400" stroke-width="1.40" stroke-linejoin="miter"/>
<text x="1136.41 1148.57 1168.31 1180.36" y="43.30" font-size="14.50">M1M2</text>
<text transform="matrix(0.17292 0 0 0.18809 1157.692 45.266)" x="0" y="0" font-size="100.0">~</text>
<path d="M1098.10 58.10H1126.80" stroke="#ffa500" stroke-width="2.10"/>
<path d="M1112.50 53.90L1113.44 56.80L1116.49 56.80L1114.03 58.60L1114.97 61.50L1112.50 59.70L1110.03 61.50L1110.97 58.60L1108.51 56.80L1111.56 56.80Z" fill="#ffa500" stroke="#ffa500" stroke-width="1.40" stroke-linejoin="bevel"/>
<text x="1136.41 1148.57 1168.31 1180.56" y="63.20" font-size="14.50">M1M3</text>
<text transform="matrix(0.17292 0 0 0.18809 1157.692 65.166)" x="0" y="0" font-size="100.0">~</text>
<path d="M1098.10 77.80H1126.80" stroke="#ffd700" stroke-width="2.10"/>
<path d="M1112.50 73.60L1113.44 76.50L1116.49 76.50L1114.03 78.30L1114.97 81.20L1112.50 79.40L1110.03 81.20L1110.97 78.30L1108.51 76.50L1111.56 76.50Z" fill="#ffd700" stroke="#ffd700" stroke-width="1.40" stroke-linejoin="bevel"/>
<text x="1136.41 1148.57 1168.31 1180.54" y="82.90" font-size="14.50">M1M4</text>
<text transform="matrix(0.17292 0 0 0.18809 1157.692 84.866)" x="0" y="0" font-size="100.0">~</text>
<path d="M1098.10 97.70H1126.80" stroke="#ff1493" stroke-width="2.10"/>
<circle cx="1112.50" cy="97.70" r="4.20" fill="#ff1493" stroke="#ff1493" stroke-width="1.40"/>
<text x="1136.41 1148.57 1168.31 1180.49" y="102.80" font-size="14.50">M1M5</text>
<text transform="matrix(0.17292 0 0 0.18809 1157.692 104.766)" x="0" y="0" font-size="100.0">~</text>
<g role="img" aria-label="(b) Interval 1: MAPE when sumodels using Nerual Network (NN) model">
<text class="sf" transform="matrix(0.33874 0 0 0.30990 716.711 450.402)" x="0" y="0" font-size="100.0">(</text>
<text class="sfb" transform="matrix(0.33802 0 0 0.31267 727.571 451.695)" x="0" y="0" font-size="100.0">b</text>
<text class="sf" transform="matrix(0.34652 0 0 0.30990 744.983 450.402)" x="0" y="0" font-size="100.0">)</text>
<text class="sf" transform="matrix(0.31757 0 0 0.27333 768.853 452.500)" x="0" y="0" font-size="100.0">I</text>
<text class="sf" transform="matrix(0.29534 0 0 0.24571 779.130 452.500)" x="0" y="0" font-size="100.0">n</text>
<text class="sf" transform="matrix(0.32099 0 0 0.28657 794.135 452.514)" x="0" y="0" font-size="100.0">t</text>
<text class="sf" transform="matrix(0.28132 0 0 0.25030 804.024 452.550)" x="0" y="0" font-size="100.0">e</text>
<text class="sf" transform="matrix(0.29869 0 0 0.24571 816.408 452.500)" x="0" y="0" font-size="100.0">r</text>
<text class="sf" transform="matrix(0.26287 0 0 0.24726 827.340 452.553)" x="0" y="0" font-size="100.0">v</text>
<text class="sf" transform="matrix(0.30846 0 0 0.25132 840.987 452.549)" x="0" y="0" font-size="100.0">a</text>
<text class="sf" transform="matrix(0.25565 0 0 0.26200 854.756 452.500)" x="0" y="0" font-size="100.0">l</text>
<text class="sf" transform="matrix(0.26626 0 0 0.26433 873.053 452.500)" x="0" y="0" font-size="100.0">1</text>
<text class="sf" transform="matrix(0.26203 0 0 0.23368 887.271 452.169)" x="0" y="0" font-size="100.0">:</text>
<text class="sf" transform="matrix(0.28226 0 0 0.27333 905.261 452.500)" x="0" y="0" font-size="100.0">M</text>
<text class="sf" transform="matrix(0.26930 0 0 0.28409 931.138 452.500)" x="0" y="0" font-size="100.0">A</text>
<text class="sf" transform="matrix(0.33629 0 0 0.27333 951.262 452.500)" x="0" y="0" font-size="100.0">P</text>
<text class="sf" transform="matrix(0.32369 0 0 0.27333 970.097 452.500)" x="0" y="0" font-size="100.0">E</text>
<text class="sf" transform="matrix(0.26348 0 0 0.24726 1000.683 452.553)" x="0" y="0" font-size="100.0">w</text>
<text class="sf" transform="matrix(0.29319 0 0 0.26200 1020.655 452.500)" x="0" y="0" font-size="100.0">h</text>
<text class="sf" transform="matrix(0.28842 0 0 0.25030 1035.066 452.550)" x="0" y="0" font-size="100.0">e</text>
<text class="sf" transform="matrix(0.30279 0 0 0.24571 1047.788 452.500)" x="0" y="0" font-size="100.0">n</text>
<text class="sf" transform="matrix(0.29732 0 0 0.25030 1072.457 452.550)" x="0" y="0" font-size="100.0">s</text>
<text class="sf" transform="matrix(0.30672 0 0 0.25327 1084.365 452.547)" x="0" y="0" font-size="100.0">u</text>
<text class="sf" transform="matrix(0.30083 0 0 0.24571 1099.905 452.500)" x="0" y="0" font-size="100.0">m</text>
<text class="sf" transform="matrix(0.29708 0 0 0.25030 1123.006 452.550)" x="0" y="0" font-size="100.0">o</text>
<text class="sf" transform="matrix(0.31162 0 0 0.26255 1137.363 452.538)" x="0" y="0" font-size="100.0">d</text>
<text class="sf" transform="matrix(0.29710 0 0 0.25030 1152.943 452.550)" x="0" y="0" font-size="100.0">e</text>
<text class="sf" transform="matrix(0.27000 0 0 0.26200 1166.251 452.500)" x="0" y="0" font-size="100.0">l</text>
<text class="sf" transform="matrix(0.29732 0 0 0.25030 1173.504 452.550)" x="0" y="0" font-size="100.0">s</text>
<text class="sf" transform="matrix(0.29822 0 0 0.25327 721.607 483.547)" x="0" y="0" font-size="100.0">u</text>
<text class="sf" transform="matrix(0.28909 0 0 0.25030 736.238 483.550)" x="0" y="0" font-size="100.0">s</text>
<text class="sf" transform="matrix(0.25344 0 0 0.26471 747.705 483.500)" x="0" y="0" font-size="100.0">i</text>
<text class="sf" transform="matrix(0.30327 0 0 0.24571 755.159 483.500)" x="0" y="0" font-size="100.0">n</text>
<text class="sf" transform="matrix(0.28813 0 0 0.23691 769.892 483.786)" x="0" y="0" font-size="100.0">g</text>
<text class="sf" transform="matrix(0.28567 0 0 0.27333 793.377 483.500)" x="0" y="0" font-size="100.0">N</text>
<text class="sf" transform="matrix(0.29164 0 0 0.25030 813.887 483.550)" x="0" y="0" font-size="100.0">e</text>
<text class="sf" transform="matrix(0.30964 0 0 0.24571 826.724 483.500)" x="0" y="0" font-size="100.0">r</text>
<text class="sf" transform="matrix(0.30108 0 0 0.25327 837.959 483.547)" x="0" y="0" font-size="100.0">u</text>
<text class="sf" transform="matrix(0.31977 0 0 0.25132 852.994 483.549)" x="0" y="0" font-size="100.0">a</text>
<text class="sf" transform="matrix(0.26503 0 0 0.26200 867.267 483.500)" x="0" y="0" font-size="100.0">l</text>
<text class="sf" transform="matrix(0.27921 0 0 0.27333 884.796 483.500)" x="0" y="0" font-size="100.0">N</text>
<text class="sf" transform="matrix(0.28504 0 0 0.25030 904.841 483.550)" x="0" y="0" font-size="100.0">e</text>
<text class="sf" transform="matrix(0.32523 0 0 0.28657 917.491 483.514)" x="0" y="0" font-size="100.0">t</text>
<text class="sf" transform="matrix(0.26040 0 0 0.24726 928.333 483.553)" x="0" y="0" font-size="100.0">w</text>
<text class="sf" transform="matrix(0.28501 0 0 0.25030 947.215 483.550)" x="0" y="0" font-size="100.0">o</text>
<text class="sf" transform="matrix(0.30264 0 0 0.24571 961.264 483.500)" x="0" y="0" font-size="100.0">r</text>
<text class="sf" transform="matrix(0.27495 0 0 0.26200 972.003 483.500)" x="0" y="0" font-size="100.0">k</text>
<text class="sf" transform="matrix(0.26704 0 0 0.28895 996.926 483.899)" x="0" y="0" font-size="100.0">(</text>
<text class="sf" transform="matrix(0.29925 0 0 0.27333 1006.635 483.500)" x="0" y="0" font-size="100.0">N</text>
<text class="sf" transform="matrix(0.29925 0 0 0.27333 1028.536 483.500)" x="0" y="0" font-size="100.0">N</text>
<text class="sf" transform="matrix(0.26704 0 0 0.28895 1051.181 483.899)" x="0" y="0" font-size="100.0">)</text>
<text class="sf" transform="matrix(0.29803 0 0 0.24571 1070.174 483.500)" x="0" y="0" font-size="100.0">m</text>
<text class="sf" transform="matrix(0.29432 0 0 0.25030 1093.061 483.550)" x="0" y="0" font-size="100.0">o</text>
<text class="sf" transform="matrix(0.30873 0 0 0.26255 1107.285 483.538)" x="0" y="0" font-size="100.0">d</text>
<text class="sf" transform="matrix(0.29434 0 0 0.25030 1122.719 483.550)" x="0" y="0" font-size="100.0">e</text>
<text class="sf" transform="matrix(0.26749 0 0 0.26200 1135.904 483.500)" x="0" y="0" font-size="100.0">l</text>
</g>
<g clip-path="url(#clipc)">
<path d="M115.08 882.80L163.57 882.80L212.07 882.80L260.56 882.80L309.06 882.80L357.55 882.80L406.04 882.80L454.54 882.80L503.03 882.80L551.53 882.80" fill="none" stroke="#32cd32" stroke-width="2.10" stroke-linejoin="round" stroke-linecap="square"/>
<path d="M110.88 878.60L119.28 878.60L115.08 887.00Z" fill="#32cd32" stroke="#32cd32" stroke-width="1.40" stroke-linejoin="miter"/>
<path d="M159.37 878.60L167.77 878.60L163.57 887.00Z" fill="#32cd32" stroke="#32cd32" stroke-width="1.40" stroke-linejoin="miter"/>
<path d="M207.87 878.60L216.27 878.60L212.07 887.00Z" fill="#32cd32" stroke="#32cd32" stroke-width="1.40" stroke-linejoin="miter"/>
<path d="M256.36 878.60L264.76 878.60L260.56 887.00Z" fill="#32cd32" stroke="#32cd32" stroke-width="1.40" stroke-linejoin="miter"/>
<path d="M304.86 878.60L313.26 878.60L309.06 887.00Z" fill="#32cd32" stroke="#32cd32" stroke-width="1.40" stroke-linejoin="miter"/>
<path d="M353.35 878.60L361.75 878.60L357.55 887.00Z" fill="#32cd32" stroke="#32cd32" stroke-width="1.40" stroke-linejoin="miter"/>
<path d="M401.84 878.60L410.24 878.60L406.04 887.00Z" fill="#32cd32" stroke="#32cd32" stroke-width="1.40" stroke-linejoin="miter"/>
<path d="M450.34 878.60L458.74 878.60L454.54 887.00Z" fill="#32cd32" stroke="#32cd32" stroke-width="1.40" stroke-linejoin="miter"/>
<path d="M498.83 878.60L507.23 878.60L503.03 887.00Z" fill="#32cd32" stroke="#32cd32" stroke-width="1.40" stroke-linejoin="miter"/>
<path d="M547.33 878.60L555.73 878.60L551.53 887.00Z" fill="#32cd32" stroke="#32cd32" stroke-width="1.40" stroke-linejoin="miter"/>
<path d="M115.08 648.70L163.57 704.20L212.07 756.20L260.56 798.00L309.06 832.40L357.55 862.00L406.04 882.50L454.54 892.80L503.03 895.80L551.53 892.80" fill="none" stroke="#006400" stroke-width="2.10" stroke-linejoin="round" stroke-linecap="square"/>
<path d="M110.88 644.50L119.28 644.50L115.08 652.90Z" fill="#006400" stroke="#006400" stroke-width="1.40" stroke-linejoin="miter"/>
<path d="M159.37 700.00L167.77 700.00L163.57 708.40Z" fill="#006400" stroke="#006400" stroke-width="1.40" stroke-linejoin="miter"/>
<path d="M207.87 752.00L216.27 752.00L212.07 760.40Z" fill="#006400" stroke="#006400" stroke-width="1.40" stroke-linejoin="miter"/>
<path d="M256.36 793.80L264.76 793.80L260.56 802.20Z" fill="#006400" stroke="#006400" stroke-width="1.40" stroke-linejoin="miter"/>
<path d="M304.86 828.20L313.26 828.20L309.06 836.60Z" fill="#006400" stroke="#006400" stroke-width="1.40" stroke-linejoin="miter"/>
<path d="M353.35 857.80L361.75 857.80L357.55 866.20Z" fill="#006400" stroke="#006400" stroke-width="1.40" stroke-linejoin="miter"/>
<path d="M401.84 878.30L410.24 878.30L406.04 886.70Z" fill="#006400" stroke="#006400" stroke-width="1.40" stroke-linejoin="miter"/>
<path d="M450.34 888.60L458.74 888.60L454.54 897.00Z" fill="#006400" stroke="#006400" stroke-width="1.40" stroke-linejoin="miter"/>
<path d="M498.83 891.60L507.23 891.60L503.03 900.00Z" fill="#006400" stroke="#006400" stroke-width="1.40" stroke-linejoin="miter"/>
<path d="M547.33 888.60L555.73 888.60L551.53 897.00Z" fill="#006400" stroke="#006400" stroke-width="1.40" stroke-linejoin="miter"/>
<path d="M115.08 607.20L163.57 685.40L212.07 754.00L260.56 808.00L309.06 852.00L357.55 881.00L406.04 896.00L454.54 901.50L503.03 901.50L551.53 895.50" fill="none" stroke="#ffa500" stroke-width="2.10" stroke-linejoin="round" stroke-linecap="square"/>
<path d="M115.08 603.00L116.02 605.90L119.07 605.90L116.61 607.70L117.55 610.60L115.08 608.80L112.61 610.60L113.55 607.70L111.09 605.90L114.14 605.90Z" fill="#ffa500" stroke="#ffa500" stroke-width="1.40" stroke-linejoin="bevel"/>
<path d="M163.57 681.20L164.52 684.10L167.57 684.10L165.10 685.90L166.04 688.80L163.57 687.00L161.11 688.80L162.05 685.90L159.58 684.10L162.63 684.10Z" fill="#ffa500" stroke="#ffa500" stroke-width="1.40" stroke-linejoin="bevel"/>
<path d="M212.07 749.80L213.01 752.70L216.06 752.70L213.59 754.50L214.54 757.40L212.07 755.60L209.60 757.40L210.54 754.50L208.07 752.70L211.13 752.70Z" fill="#ffa500" stroke="#ffa500" stroke-width="1.40" stroke-linejoin="bevel"/>
<path d="M260.56 803.80L261.50 806.70L264.56 806.70L262.09 808.50L263.03 811.40L260.56 809.60L258.09 811.40L259.04 808.50L256.57 806.70L259.62 806.70Z" fill="#ffa500" stroke="#ffa500" stroke-width="1.40" stroke-linejoin="bevel"/>
<path d="M309.06 847.80L310.00 850.70L313.05 850.70L310.58 852.50L311.52 855.40L309.06 853.60L306.59 855.40L307.53 852.50L305.06 850.70L308.11 850.70Z" fill="#ffa500" stroke="#ffa500" stroke-width="1.40" stroke-linejoin="bevel"/>
<path d="M357.55 876.80L358.49 879.70L361.54 879.70L359.08 881.50L360.02 884.40L357.55 882.60L355.08 884.40L356.02 881.50L353.56 879.70L356.61 879.70Z" fill="#ffa500" stroke="#ffa500" stroke-width="1.40" stroke-linejoin="bevel"/>
<path d="M406.04 891.80L406.99 894.70L410.04 894.70L407.57 896.50L408.51 899.40L406.04 897.60L403.58 899.40L404.52 896.50L402.05 894.70L405.10 894.70Z" fill="#ffa500" stroke="#ffa500" stroke-width="1.40" stroke-linejoin="bevel"/>
<path d="M454.54 897.30L455.48 900.20L458.53 900.20L456.06 902.00L457.01 904.90L454.54 903.10L452.07 904.90L453.01 902.00L450.54 900.20L453.60 900.20Z" fill="#ffa500" stroke="#ffa500" stroke-width="1.40" stroke-linejoin="bevel"/>
<path d="M503.03 897.30L503.97 900.20L507.03 900.20L504.56 902.00L505.50 904.90L503.03 903.10L500.56 904.90L501.51 902.00L499.04 900.20L502.09 900.20Z" fill="#ffa500" stroke="#ffa500" stroke-width="1.40" stroke-linejoin="bevel"/>
<path d="M551.53 891.30L552.47 894.20L555.52 894.20L553.05 896.00L553.99 898.90L551.53 897.10L549.06 898.90L550.00 896.00L547.53 894.20L550.58 894.20Z" fill="#ffa500" stroke="#ffa500" stroke-width="1.40" stroke-linejoin="bevel"/>
<path d="M115.08 586.10L163.57 675.00L212.07 748.50L260.56 807.50L309.06 851.60L357.55 880.70L406.04 895.60L454.54 901.20L503.03 901.20L551.53 895.20" fill="none" stroke="#ffd700" stroke-width="2.10" stroke-linejoin="round" stroke-linecap="square"/>
<path d="M115.08 581.90L116.02 584.80L119.07 584.80L116.61 586.60L117.55 589.50L115.08 587.70L112.61 589.50L113.55 586.60L111.09 584.80L114.14 584.80Z" fill="#ffd700" stroke="#ffd700" stroke-width="1.40" stroke-linejoin="bevel"/>
<path d="M163.57 670.80L164.52 673.70L167.57 673.70L165.10 675.50L166.04 678.40L163.57 676.60L161.11 678.40L162.05 675.50L159.58 673.70L162.63 673.70Z" fill="#ffd700" stroke="#ffd700" stroke-width="1.40" stroke-linejoin="bevel"/>
<path d="M212.07 744.30L213.01 747.20L216.06 747.20L213.59 749.00L214.54 751.90L212.07 750.10L209.60 751.90L210.54 749.00L208.07 747.20L211.13 747.20Z" fill="#ffd700" stroke="#ffd700" stroke-width="1.40" stroke-linejoin="bevel"/>
<path d="M260.56 803.30L261.50 806.20L264.56 806.20L262.09 808.00L263.03 810.90L260.56 809.10L258.09 810.90L259.04 808.00L256.57 806.20L259.62 806.20Z" fill="#ffd700" stroke="#ffd700" stroke-width="1.40" stroke-linejoin="bevel"/>
<path d="M309.06 847.40L310.00 850.30L313.05 850.30L310.58 852.10L311.52 855.00L309.06 853.20L306.59 855.00L307.53 852.10L305.06 850.30L308.11 850.30Z" fill="#ffd700" stroke="#ffd700" stroke-width="1.40" stroke-linejoin="bevel"/>
<path d="M357.55 876.50L358.49 879.40L361.54 879.40L359.08 881.20L360.02 884.10L357.55 882.30L355.08 884.10L356.02 881.20L353.56 879.40L356.61 879.40Z" fill="#ffd700" stroke="#ffd700" stroke-width="1.40" stroke-linejoin="bevel"/>
<path d="M406.04 891.40L406.99 894.30L410.04 894.30L407.57 896.10L408.51 899.00L406.04 897.20L403.58 899.00L404.52 896.10L402.05 894.30L405.10 894.30Z" fill="#ffd700" stroke="#ffd700" stroke-width="1.40" stroke-linejoin="bevel"/>
<path d="M454.54 897.00L455.48 899.90L458.53 899.90L456.06 901.70L457.01 904.60L454.54 902.80L452.07 904.60L453.01 901.70L450.54 899.90L453.60 899.90Z" fill="#ffd700" stroke="#ffd700" stroke-width="1.40" stroke-linejoin="bevel"/>
<path d="M503.03 897.00L503.97 899.90L507.03 899.90L504.56 901.70L505.50 904.60L503.03 902.80L500.56 904.60L501.51 901.70L499.04 899.90L502.09 899.90Z" fill="#ffd700" stroke="#ffd700" stroke-width="1.40" stroke-linejoin="bevel"/>
<path d="M551.53 891.00L552.47 893.90L555.52 893.90L553.05 895.70L553.99 898.60L551.53 896.80L549.06 898.60L550.00 895.70L547.53 893.90L550.58 893.90Z" fill="#ffd700" stroke="#ffd700" stroke-width="1.40" stroke-linejoin="bevel"/>
<path d="M115.08 575.70L163.57 668.60L212.07 745.30L260.56 806.50L309.06 851.20L357.55 880.20L406.04 895.10L454.54 900.70L503.03 900.70L551.53 894.70" fill="none" stroke="#ff1493" stroke-width="2.10" stroke-linejoin="round" stroke-linecap="square"/>
<circle cx="115.08" cy="575.70" r="4.20" fill="#ff1493" stroke="#ff1493" stroke-width="1.40"/>
<circle cx="163.57" cy="668.60" r="4.20" fill="#ff1493" stroke="#ff1493" stroke-width="1.40"/>
<circle cx="212.07" cy="745.30" r="4.20" fill="#ff1493" stroke="#ff1493" stroke-width="1.40"/>
<circle cx="260.56" cy="806.50" r="4.20" fill="#ff1493" stroke="#ff1493" stroke-width="1.40"/>
<circle cx="309.06" cy="851.20" r="4.20" fill="#ff1493" stroke="#ff1493" stroke-width="1.40"/>
<circle cx="357.55" cy="880.20" r="4.20" fill="#ff1493" stroke="#ff1493" stroke-width="1.40"/>
<circle cx="406.04" cy="895.10" r="4.20" fill="#ff1493" stroke="#ff1493" stroke-width="1.40"/>
<circle cx="454.54" cy="900.70" r="4.20" fill="#ff1493" stroke="#ff1493" stroke-width="1.40"/>
<circle cx="503.03" cy="900.70" r="4.20" fill="#ff1493" stroke="#ff1493" stroke-width="1.40"/>
<circle cx="551.53" cy="894.70" r="4.20" fill="#ff1493" stroke="#ff1493" stroke-width="1.40"/>
</g>
<path d="M93.30 559.40V917.30H573.00V559.40" fill="none" stroke="#000" stroke-width="1.50" stroke-linecap="square"/>
<path d="M93.30 559.40H573.00" stroke="#000" stroke-width="1.50"/>
<path d="M115.08 917.30V921.80" stroke="#000" stroke-width="1.35"/>
<text x="104.53 113.06 117.50" y="937.20" font-size="14.50">0.5</text>
<path d="M163.57 917.30V921.80" stroke="#000" stroke-width="1.35"/>
<text x="148.68 157.21 161.66 170.34" y="937.20" font-size="14.50">0.55</text>
<path d="M212.07 917.30V921.80" stroke="#000" stroke-width="1.35"/>
<text x="201.52 210.05 214.54" y="937.20" font-size="14.50">0.6</text>
<path d="M260.56 917.30V921.80" stroke="#000" stroke-width="1.35"/>
<text x="245.67 254.20 258.70 267.33" y="937.20" font-size="14.50">0.65</text>
<path d="M309.06 917.30V921.80" stroke="#000" stroke-width="1.35"/>
<text x="298.51 307.04 311.51" y="937.20" font-size="14.50">0.7</text>
<path d="M357.55 917.30V921.80" stroke="#000" stroke-width="1.35"/>
<text x="342.66 351.19 355.66 364.32" y="937.20" font-size="14.50">0.75</text>
<path d="M406.04 917.30V921.80" stroke="#000" stroke-width="1.35"/>
<text x="395.50 404.02 408.52" y="937.20" font-size="14.50">0.8</text>
<path d="M454.54 917.30V921.80" stroke="#000" stroke-width="1.35"/>
<text x="439.65 448.17 452.67 461.30" y="937.20" font-size="14.50">0.85</text>
<path d="M503.03 917.30V921.80" stroke="#000" stroke-width="1.35"/>
<text x="492.48 501.01 505.47" y="937.20" font-size="14.50">0.9</text>
<path d="M551.53 917.30V921.80" stroke="#000" stroke-width="1.35"/>
<text x="536.64 545.16 549.62 558.29" y="937.20" font-size="14.50">0.95</text>
<path d="M88.70 587.20H93.30" stroke="#000" stroke-width="1.35"/>
<text x="36.65 45.18 49.68 58.18 67.04 75.73" y="592.55" font-size="14.50">0.0200</text>
<path d="M88.70 646.24H93.30" stroke="#000" stroke-width="1.35"/>
<text x="36.94 45.46 49.96 58.57 67.29 75.96" y="651.59" font-size="14.50">0.0195</text>
<path d="M88.70 705.28H93.30" stroke="#000" stroke-width="1.35"/>
<text x="36.65 45.18 49.68 58.28 67.00 75.73" y="710.63" font-size="14.50">0.0190</text>
<path d="M88.70 764.32H93.30" stroke="#000" stroke-width="1.35"/>
<text x="36.94 45.46 49.96 58.57 67.33 75.96" y="769.67" font-size="14.50">0.0185</text>
<path d="M88.70 823.36H93.30" stroke="#000" stroke-width="1.35"/>
<text x="36.65 45.18 49.68 58.28 67.04 75.73" y="828.71" font-size="14.50">0.0180</text>
<path d="M88.70 882.40H93.30" stroke="#000" stroke-width="1.35"/>
<text x="36.94 45.46 49.96 58.57 67.30 75.96" y="887.75" font-size="14.50">0.0175</text>
<text x="310.05 321.77 326.44 336.72 346.28" y="963.10" font-size="17.30">Alpha</text>
<text transform="translate(11.90 0) rotate(-90)" x="-760.85 -746.99 -736.38 -726.78" y="0.00" font-size="17.30">MAPE</text>
<rect x="466.80" y="566.50" width="99.40" height="102.80" rx="2.8" ry="2.8" fill="#fff" fill-opacity="0.8" stroke="#d6d6d6" stroke-width="1.3"/>
<path d="M471.00 577.50H499.70" stroke="#32cd32" stroke-width="2.10"/>
<path d="M481.20 573.30L489.60 573.30L485.40 581.70Z" fill="#32cd32" stroke="#32cd32" stroke-width="1.40" stroke-linejoin="miter"/>
<text x="509.21 521.37" y="582.60" font-size="14.50">M1</text>
<path d="M471.00 597.20H499.70" stroke="#006400" stroke-width="2.10"/>
<path d="M481.20 593.00L489.60 593.00L485.40 601.40Z" fill="#006400" stroke="#006400" stroke-width="1.40" stroke-linejoin="miter"/>
<text x="509.21 521.37 541.11 553.16" y="602.30" font-size="14.50">M1M2</text>
<text transform="matrix(0.17292 0 0 0.18809 530.492 604.266)" x="0" y="0" font-size="100.0">~</text>
<path d="M471.00 617.10H499.70" stroke="#ffa500" stroke-width="2.10"/>
<path d="M485.40 612.90L486.34 615.80L489.39 615.80L486.93 617.60L487.87 620.50L485.40 618.70L482.93 620.50L483.87 617.60L481.41 615.80L484.46 615.80Z" fill="#ffa500" stroke="#ffa500" stroke-width="1.40" stroke-linejoin="bevel"/>
<text x="509.21 521.37 541.11 553.36" y="622.20" font-size="14.50">M1M3</text>
<text transform="matrix(0.17292 0 0 0.18809 530.492 624.166)" x="0" y="0" font-size="100.0">~</text>
<path d="M471.00 636.80H499.70" stroke="#ffd700" stroke-width="2.10"/>
<path d="M485.40 632.60L486.34 635.50L489.39 635.50L486.93 637.30L487.87 640.20L485.40 638.40L482.93 640.20L483.87 637.30L481.41 635.50L484.46 635.50Z" fill="#ffd700" stroke="#ffd700" stroke-width="1.40" stroke-linejoin="bevel"/>
<text x="509.21 521.37 541.11 553.34" y="641.90" font-size="14.50">M1M4</text>
<text transform="matrix(0.17292 0 0 0.18809 530.492 643.866)" x="0" y="0" font-size="100.0">~</text>
<path d="M471.00 656.50H499.70" stroke="#ff1493" stroke-width="2.10"/>
<circle cx="485.40" cy="656.50" r="4.20" fill="#ff1493" stroke="#ff1493" stroke-width="1.40"/>
<text x="509.21 521.37 541.11 553.29" y="661.60" font-size="14.50">M1M5</text>
<text transform="matrix(0.17292 0 0 0.18809 530.492 663.566)" x="0" y="0" font-size="100.0">~</text>
<g role="img" aria-label="(c) Interval 2: MAPE when sumodels using SVM model">
<text class="sf" transform="matrix(0.33874 0 0 0.30990 86.711 1006.402)" x="0" y="0" font-size="100.0">(</text>
<text class="sfb" transform="matrix(0.33527 0 0 0.30803 97.654 1007.514)" x="0" y="0" font-size="100.0">c</text>
<text class="sf" transform="matrix(0.34652 0 0 0.30990 111.883 1006.402)" x="0" y="0" font-size="100.0">)</text>
<text class="sf" transform="matrix(0.31987 0 0 0.27333 138.844 1008.500)" x="0" y="0" font-size="100.0">I</text>
<text class="sf" transform="matrix(0.29748 0 0 0.24571 149.197 1008.500)" x="0" y="0" font-size="100.0">n</text>
<text class="sf" transform="matrix(0.32331 0 0 0.28657 164.310 1008.514)" x="0" y="0" font-size="100.0">t</text>
<text class="sf" transform="matrix(0.28336 0 0 0.25030 174.271 1008.550)" x="0" y="0" font-size="100.0">e</text>
<text class="sf" transform="matrix(0.30085 0 0 0.24571 186.745 1008.500)" x="0" y="0" font-size="100.0">r</text>
<text class="sf" transform="matrix(0.26477 0 0 0.24726 197.755 1008.553)" x="0" y="0" font-size="100.0">v</text>
<text class="sf" transform="matrix(0.31070 0 0 0.25132 211.502 1008.549)" x="0" y="0" font-size="100.0">a</text>
<text class="sf" transform="matrix(0.25751 0 0 0.26200 225.370 1008.500)" x="0" y="0" font-size="100.0">l</text>
<text class="sf" transform="matrix(0.26543 0 0 0.26355 244.990 1008.500)" x="0" y="0" font-size="100.0">2</text>
<text class="sf" transform="matrix(0.24872 0 0 0.23368 258.420 1008.169)" x="0" y="0" font-size="100.0">:</text>
<text class="sf" transform="matrix(0.28431 0 0 0.27333 276.241 1008.500)" x="0" y="0" font-size="100.0">M</text>
<text class="sf" transform="matrix(0.27126 0 0 0.28409 302.305 1008.500)" x="0" y="0" font-size="100.0">A</text>
<text class="sf" transform="matrix(0.33873 0 0 0.27333 322.575 1008.500)" x="0" y="0" font-size="100.0">P</text>
<text class="sf" transform="matrix(0.32603 0 0 0.27333 341.547 1008.500)" x="0" y="0" font-size="100.0">E</text>
<text class="sf" transform="matrix(0.26539 0 0 0.24726 372.354 1008.553)" x="0" y="0" font-size="100.0">w</text>
<text class="sf" transform="matrix(0.29531 0 0 0.26200 392.471 1008.500)" x="0" y="0" font-size="100.0">h</text>
<text class="sf" transform="matrix(0.29051 0 0 0.25030 406.987 1008.550)" x="0" y="0" font-size="100.0">e</text>
<text class="sf" transform="matrix(0.30499 0 0 0.24571 419.801 1008.500)" x="0" y="0" font-size="100.0">n</text>
<text class="sf" transform="matrix(0.29948 0 0 0.25030 444.649 1008.550)" x="0" y="0" font-size="100.0">s</text>
<text class="sf" transform="matrix(0.30894 0 0 0.25327 456.643 1008.547)" x="0" y="0" font-size="100.0">u</text>
<text class="sf" transform="matrix(0.30301 0 0 0.24571 472.295 1008.500)" x="0" y="0" font-size="100.0">m</text>
<text class="sf" transform="matrix(0.29923 0 0 0.25030 495.564 1008.550)" x="0" y="0" font-size="100.0">o</text>
<text class="sf" transform="matrix(0.31388 0 0 0.26255 510.025 1008.538)" x="0" y="0" font-size="100.0">d</text>
<text class="sf" transform="matrix(0.29926 0 0 0.25030 525.718 1008.550)" x="0" y="0" font-size="100.0">e</text>
<text class="sf" transform="matrix(0.27195 0 0 0.26200 539.122 1008.500)" x="0" y="0" font-size="100.0">l</text>
<text class="sf" transform="matrix(0.29948 0 0 0.25030 546.428 1008.550)" x="0" y="0" font-size="100.0">s</text>
<text class="sf" transform="matrix(0.29605 0 0 0.25327 94.410 1039.447)" x="0" y="0" font-size="100.0">u</text>
<text class="sf" transform="matrix(0.28698 0 0 0.25030 108.935 1039.450)" x="0" y="0" font-size="100.0">s</text>
<text class="sf" transform="matrix(0.25160 0 0 0.26471 120.318 1039.400)" x="0" y="0" font-size="100.0">i</text>
<text class="sf" transform="matrix(0.30106 0 0 0.24571 127.717 1039.400)" x="0" y="0" font-size="100.0">n</text>
<text class="sf" transform="matrix(0.28603 0 0 0.23691 142.343 1039.686)" x="0" y="0" font-size="100.0">g</text>
<text class="sf" transform="matrix(0.29590 0 0 0.28352 165.621 1039.699)" x="0" y="0" font-size="100.0">S</text>
<text class="sf" transform="matrix(0.29004 0 0 0.27575 182.063 1039.558)" x="0" y="0" font-size="100.0">V</text>
<text class="sf" transform="matrix(0.29049 0 0 0.27333 203.422 1039.400)" x="0" y="0" font-size="100.0">M</text>
<text class="sf" transform="matrix(0.29927 0 0 0.24571 238.472 1039.400)" x="0" y="0" font-size="100.0">m</text>
<text class="sf" transform="matrix(0.29554 0 0 0.25030 261.454 1039.450)" x="0" y="0" font-size="100.0">o</text>
<text class="sf" transform="matrix(0.31001 0 0 0.26255 275.737 1039.438)" x="0" y="0" font-size="100.0">d</text>
<text class="sf" transform="matrix(0.29557 0 0 0.25030 291.236 1039.450)" x="0" y="0" font-size="100.0">e</text>
<text class="sf" transform="matrix(0.26860 0 0 0.26200 304.475 1039.400)" x="0" y="0" font-size="100.0">l</text>
</g>
<g clip-path="url(#clipd)">
<path d="M741.83 888.50L790.33 894.80L838.83 889.20L887.33 888.70L935.83 892.00L984.33 889.20L1032.83 884.00L1081.33 876.50L1129.83 860.80L1178.33 889.00" fill="none" stroke="#32cd32" stroke-width="2.10" stroke-linejoin="round" stroke-linecap="square"/>
<path d="M737.63 884.30L746.03 884.30L741.83 892.70Z" fill="#32cd32" stroke="#32cd32" stroke-width="1.40" stroke-linejoin="miter"/>
<path d="M786.13 890.60L794.53 890.60L790.33 899.00Z" fill="#32cd32" stroke="#32cd32" stroke-width="1.40" stroke-linejoin="miter"/>
<path d="M834.63 885.00L843.03 885.00L838.83 893.40Z" fill="#32cd32" stroke="#32cd32" stroke-width="1.40" stroke-linejoin="miter"/>
<path d="M883.13 884.50L891.53 884.50L887.33 892.90Z" fill="#32cd32" stroke="#32cd32" stroke-width="1.40" stroke-linejoin="miter"/>
<path d="M931.63 887.80L940.03 887.80L935.83 896.20Z" fill="#32cd32" stroke="#32cd32" stroke-width="1.40" stroke-linejoin="miter"/>
<path d="M980.13 885.00L988.53 885.00L984.33 893.40Z" fill="#32cd32" stroke="#32cd32" stroke-width="1.40" stroke-linejoin="miter"/>
<path d="M1028.63 879.80L1037.03 879.80L1032.83 888.20Z" fill="#32cd32" stroke="#32cd32" stroke-width="1.40" stroke-linejoin="miter"/>
<path d="M1077.13 872.30L1085.53 872.30L1081.33 880.70Z" fill="#32cd32" stroke="#32cd32" stroke-width="1.40" stroke-linejoin="miter"/>
<path d="M1125.63 856.60L1134.03 856.60L1129.83 865.00Z" fill="#32cd32" stroke="#32cd32" stroke-width="1.40" stroke-linejoin="miter"/>
<path d="M1174.13 884.80L1182.53 884.80L1178.33 893.20Z" fill="#32cd32" stroke="#32cd32" stroke-width="1.40" stroke-linejoin="miter"/>
<path d="M741.83 642.80L790.33 708.20L838.83 758.70L887.33 796.80L935.83 838.50L984.33 864.00L1032.83 886.50L1081.33 887.70L1129.83 880.70L1178.33 898.90" fill="none" stroke="#006400" stroke-width="2.10" stroke-linejoin="round" stroke-linecap="square"/>
<path d="M737.63 638.60L746.03 638.60L741.83 647.00Z" fill="#006400" stroke="#006400" stroke-width="1.40" stroke-linejoin="miter"/>
<path d="M786.13 704.00L794.53 704.00L790.33 712.40Z" fill="#006400" stroke="#006400" stroke-width="1.40" stroke-linejoin="miter"/>
<path d="M834.63 754.50L843.03 754.50L838.83 762.90Z" fill="#006400" stroke="#006400" stroke-width="1.40" stroke-linejoin="miter"/>
<path d="M883.13 792.60L891.53 792.60L887.33 801.00Z" fill="#006400" stroke="#006400" stroke-width="1.40" stroke-linejoin="miter"/>
<path d="M931.63 834.30L940.03 834.30L935.83 842.70Z" fill="#006400" stroke="#006400" stroke-width="1.40" stroke-linejoin="miter"/>
<path d="M980.13 859.80L988.53 859.80L984.33 868.20Z" fill="#006400" stroke="#006400" stroke-width="1.40" stroke-linejoin="miter"/>
<path d="M1028.63 882.30L1037.03 882.30L1032.83 890.70Z" fill="#006400" stroke="#006400" stroke-width="1.40" stroke-linejoin="miter"/>
<path d="M1077.13 883.50L1085.53 883.50L1081.33 891.90Z" fill="#006400" stroke="#006400" stroke-width="1.40" stroke-linejoin="miter"/>
<path d="M1125.63 876.50L1134.03 876.50L1129.83 884.90Z" fill="#006400" stroke="#006400" stroke-width="1.40" stroke-linejoin="miter"/>
<path d="M1174.13 894.70L1182.53 894.70L1178.33 903.10Z" fill="#006400" stroke="#006400" stroke-width="1.40" stroke-linejoin="miter"/>
<path d="M741.83 603.00L790.33 695.40L838.83 759.50L887.33 813.00L935.83 862.50L984.33 884.00L1032.83 899.40L1081.33 896.50L1129.83 884.50L1178.33 901.50" fill="none" stroke="#ffa500" stroke-width="2.10" stroke-linejoin="round" stroke-linecap="square"/>
<path d="M741.83 598.80L742.77 601.70L745.82 601.70L743.36 603.50L744.30 606.40L741.83 604.60L739.36 606.40L740.30 603.50L737.84 601.70L740.89 601.70Z" fill="#ffa500" stroke="#ffa500" stroke-width="1.40" stroke-linejoin="bevel"/>
<path d="M790.33 691.20L791.27 694.10L794.32 694.10L791.86 695.90L792.80 698.80L790.33 697.00L787.86 698.80L788.80 695.90L786.34 694.10L789.39 694.10Z" fill="#ffa500" stroke="#ffa500" stroke-width="1.40" stroke-linejoin="bevel"/>
<path d="M838.83 755.30L839.77 758.20L842.82 758.20L840.36 760.00L841.30 762.90L838.83 761.10L836.36 762.90L837.30 760.00L834.84 758.20L837.89 758.20Z" fill="#ffa500" stroke="#ffa500" stroke-width="1.40" stroke-linejoin="bevel"/>
<path d="M887.33 808.80L888.27 811.70L891.32 811.70L888.86 813.50L889.80 816.40L887.33 814.60L884.86 816.40L885.80 813.50L883.34 811.70L886.39 811.70Z" fill="#ffa500" stroke="#ffa500" stroke-width="1.40" stroke-linejoin="bevel"/>
<path d="M935.83 858.30L936.77 861.20L939.82 861.20L937.36 863.00L938.30 865.90L935.83 864.10L933.36 865.90L934.30 863.00L931.84 861.20L934.89 861.20Z" fill="#ffa500" stroke="#ffa500" stroke-width="1.40" stroke-linejoin="bevel"/>
<path d="M984.33 879.80L985.27 882.70L988.32 882.70L985.86 884.50L986.80 887.40L984.33 885.60L981.86 887.40L982.80 884.50L980.34 882.70L983.39 882.70Z" fill="#ffa500" stroke="#ffa500" stroke-width="1.40" stroke-linejoin="bevel"/>
<path d="M1032.83 895.20L1033.77 898.10L1036.82 898.10L1034.36 899.90L1035.30 902.80L1032.83 901.00L1030.36 902.80L1031.30 899.90L1028.84 898.10L1031.89 898.10Z" fill="#ffa500" stroke="#ffa500" stroke-width="1.40" stroke-linejoin="bevel"/>
<path d="M1081.33 892.30L1082.27 895.20L1085.32 895.20L1082.86 897.00L1083.80 899.90L1081.33 898.10L1078.86 899.90L1079.80 897.00L1077.34 895.20L1080.39 895.20Z" fill="#ffa500" stroke="#ffa500" stroke-width="1.40" stroke-linejoin="bevel"/>
<path d="M1129.83 880.30L1130.77 883.20L1133.82 883.20L1131.36 885.00L1132.30 887.90L1129.83 886.10L1127.36 887.90L1128.30 885.00L1125.84 883.20L1128.89 883.20Z" fill="#ffa500" stroke="#ffa500" stroke-width="1.40" stroke-linejoin="bevel"/>
<path d="M1178.33 897.30L1179.27 900.20L1182.32 900.20L1179.86 902.00L1180.80 904.90L1178.33 903.10L1175.86 904.90L1176.80 902.00L1174.34 900.20L1177.39 900.20Z" fill="#ffa500" stroke="#ffa500" stroke-width="1.40" stroke-linejoin="bevel"/>
<path d="M741.83 585.50L790.33 686.00L838.83 759.50L887.33 812.50L935.83 862.20L984.33 885.20L1032.83 900.20L1081.33 897.20L1129.83 884.60L1178.33 901.30" fill="none" stroke="#ffd700" stroke-width="2.10" stroke-linejoin="round" stroke-linecap="square"/>
<path d="M741.83 581.30L742.77 584.20L745.82 584.20L743.36 586.00L744.30 588.90L741.83 587.10L739.36 588.90L740.30 586.00L737.84 584.20L740.89 584.20Z" fill="#ffd700" stroke="#ffd700" stroke-width="1.40" stroke-linejoin="bevel"/>
<path d="M790.33 681.80L791.27 684.70L794.32 684.70L791.86 686.50L792.80 689.40L790.33 687.60L787.86 689.40L788.80 686.50L786.34 684.70L789.39 684.70Z" fill="#ffd700" stroke="#ffd700" stroke-width="1.40" stroke-linejoin="bevel"/>
<path d="M838.83 755.30L839.77 758.20L842.82 758.20L840.36 760.00L841.30 762.90L838.83 761.10L836.36 762.90L837.30 760.00L834.84 758.20L837.89 758.20Z" fill="#ffd700" stroke="#ffd700" stroke-width="1.40" stroke-linejoin="bevel"/>
<path d="M887.33 808.30L888.27 811.20L891.32 811.20L888.86 813.00L889.80 815.90L887.33 814.10L884.86 815.90L885.80 813.00L883.34 811.20L886.39 811.20Z" fill="#ffd700" stroke="#ffd700" stroke-width="1.40" stroke-linejoin="bevel"/>
<path d="M935.83 858.00L936.77 860.90L939.82 860.90L937.36 862.70L938.30 865.60L935.83 863.80L933.36 865.60L934.30 862.70L931.84 860.90L934.89 860.90Z" fill="#ffd700" stroke="#ffd700" stroke-width="1.40" stroke-linejoin="bevel"/>
<path d="M984.33 881.00L985.27 883.90L988.32 883.90L985.86 885.70L986.80 888.60L984.33 886.80L981.86 888.60L982.80 885.70L980.34 883.90L983.39 883.90Z" fill="#ffd700" stroke="#ffd700" stroke-width="1.40" stroke-linejoin="bevel"/>
<path d="M1032.83 896.00L1033.77 898.90L1036.82 898.90L1034.36 900.70L1035.30 903.60L1032.83 901.80L1030.36 903.60L1031.30 900.70L1028.84 898.90L1031.89 898.90Z" fill="#ffd700" stroke="#ffd700" stroke-width="1.40" stroke-linejoin="bevel"/>
<path d="M1081.33 893.00L1082.27 895.90L1085.32 895.90L1082.86 897.70L1083.80 900.60L1081.33 898.80L1078.86 900.60L1079.80 897.70L1077.34 895.90L1080.39 895.90Z" fill="#ffd700" stroke="#ffd700" stroke-width="1.40" stroke-linejoin="bevel"/>
<path d="M1129.83 880.40L1130.77 883.30L1133.82 883.30L1131.36 885.10L1132.30 888.00L1129.83 886.20L1127.36 888.00L1128.30 885.10L1125.84 883.30L1128.89 883.30Z" fill="#ffd700" stroke="#ffd700" stroke-width="1.40" stroke-linejoin="bevel"/>
<path d="M1178.33 897.10L1179.27 900.00L1182.32 900.00L1179.86 901.80L1180.80 904.70L1178.33 902.90L1175.86 904.70L1176.80 901.80L1174.34 900.00L1177.39 900.00Z" fill="#ffd700" stroke="#ffd700" stroke-width="1.40" stroke-linejoin="bevel"/>
<path d="M741.83 575.70L790.33 679.40L838.83 753.70L887.33 811.10L935.83 861.80L984.33 885.60L1032.83 900.50L1081.33 897.00L1129.83 884.20L1178.33 901.00" fill="none" stroke="#ff1493" stroke-width="2.10" stroke-linejoin="round" stroke-linecap="square"/>
<circle cx="741.83" cy="575.70" r="4.20" fill="#ff1493" stroke="#ff1493" stroke-width="1.40"/>
<circle cx="790.33" cy="679.40" r="4.20" fill="#ff1493" stroke="#ff1493" stroke-width="1.40"/>
<circle cx="838.83" cy="753.70" r="4.20" fill="#ff1493" stroke="#ff1493" stroke-width="1.40"/>
<circle cx="887.33" cy="811.10" r="4.20" fill="#ff1493" stroke="#ff1493" stroke-width="1.40"/>
<circle cx="935.83" cy="861.80" r="4.20" fill="#ff1493" stroke="#ff1493" stroke-width="1.40"/>
<circle cx="984.33" cy="885.60" r="4.20" fill="#ff1493" stroke="#ff1493" stroke-width="1.40"/>
<circle cx="1032.83" cy="900.50" r="4.20" fill="#ff1493" stroke="#ff1493" stroke-width="1.40"/>
<circle cx="1081.33" cy="897.00" r="4.20" fill="#ff1493" stroke="#ff1493" stroke-width="1.40"/>
<circle cx="1129.83" cy="884.20" r="4.20" fill="#ff1493" stroke="#ff1493" stroke-width="1.40"/>
<circle cx="1178.33" cy="901.00" r="4.20" fill="#ff1493" stroke="#ff1493" stroke-width="1.40"/>
</g>
<path d="M720.00 559.40V917.30H1200.10V559.40" fill="none" stroke="#000" stroke-width="1.50" stroke-linecap="square"/>
<path d="M720.00 559.40H1200.10" stroke="#000" stroke-width="1.50"/>
<path d="M741.83 917.30V921.80" stroke="#000" stroke-width="1.35"/>
<text x="731.28 739.81 744.25" y="937.20" font-size="14.50">0.5</text>
<path d="M790.33 917.30V921.80" stroke="#000" stroke-width="1.35"/>
<text x="775.44 783.97 788.41 797.10" y="937.20" font-size="14.50">0.55</text>
<path d="M838.83 917.30V921.80" stroke="#000" stroke-width="1.35"/>
<text x="828.28 836.81 841.31" y="937.20" font-size="14.50">0.6</text>
<path d="M887.33 917.30V921.80" stroke="#000" stroke-width="1.35"/>
<text x="872.44 880.97 885.46 894.10" y="937.20" font-size="14.50">0.65</text>
<path d="M935.83 917.30V921.80" stroke="#000" stroke-width="1.35"/>
<text x="925.28 933.81 938.28" y="937.20" font-size="14.50">0.7</text>
<path d="M984.33 917.30V921.80" stroke="#000" stroke-width="1.35"/>
<text x="969.44 977.97 982.44 991.10" y="937.20" font-size="14.50">0.75</text>
<path d="M1032.83 917.30V921.80" stroke="#000" stroke-width="1.35"/>
<text x="1022.28 1030.81 1035.31" y="937.20" font-size="14.50">0.8</text>
<path d="M1081.33 917.30V921.80" stroke="#000" stroke-width="1.35"/>
<text x="1066.44 1074.97 1079.46 1088.10" y="937.20" font-size="14.50">0.85</text>
<path d="M1129.83 917.30V921.80" stroke="#000" stroke-width="1.35"/>
<text x="1119.28 1127.81 1132.26" y="937.20" font-size="14.50">0.9</text>
<path d="M1178.33 917.30V921.80" stroke="#000" stroke-width="1.35"/>
<text x="1163.44 1171.97 1176.42 1185.10" y="937.20" font-size="14.50">0.95</text>
<path d="M715.40 570.50H720.00" stroke="#000" stroke-width="1.35"/>
<text x="663.55 672.08 676.58 685.08 693.94 702.63" y="575.85" font-size="14.50">0.0200</text>
<path d="M715.40 632.16H720.00" stroke="#000" stroke-width="1.35"/>
<text x="663.84 672.36 676.86 685.47 694.19 702.86" y="637.51" font-size="14.50">0.0195</text>
<path d="M715.40 693.82H720.00" stroke="#000" stroke-width="1.35"/>
<text x="663.55 672.08 676.58 685.18 693.90 702.63" y="699.17" font-size="14.50">0.0190</text>
<path d="M715.40 755.48H720.00" stroke="#000" stroke-width="1.35"/>
<text x="663.84 672.36 676.86 685.47 694.23 702.86" y="760.83" font-size="14.50">0.0185</text>
<path d="M715.40 817.14H720.00" stroke="#000" stroke-width="1.35"/>
<text x="663.55 672.08 676.58 685.18 693.94 702.63" y="822.49" font-size="14.50">0.0180</text>
<path d="M715.40 878.80H720.00" stroke="#000" stroke-width="1.35"/>
<text x="663.84 672.36 676.86 685.47 694.20 702.86" y="884.15" font-size="14.50">0.0175</text>
<text x="937.15 948.87 953.54 963.82 973.38" y="966.70" font-size="17.30">Alpha</text>
<text transform="translate(640.10 0) rotate(-90)" x="-760.85 -746.99 -736.38 -726.78" y="0.00" font-size="17.30">MAPE</text>
<rect x="1093.50" y="566.50" width="100.20" height="102.80" rx="2.8" ry="2.8" fill="#fff" fill-opacity="0.8" stroke="#d6d6d6" stroke-width="1.3"/>
<path d="M1098.10 577.50H1126.80" stroke="#32cd32" stroke-width="2.10"/>
<path d="M1108.30 573.30L1116.70 573.30L1112.50 581.70Z" fill="#32cd32" stroke="#32cd32" stroke-width="1.40" stroke-linejoin="miter"/>
<text x="1136.41 1148.57" y="582.60" font-size="14.50">M1</text>
<path d="M1098.10 597.20H1126.80" stroke="#006400" stroke-width="2.10"/>
<path d="M1108.30 593.00L1116.70 593.00L1112.50 601.40Z" fill="#006400" stroke="#006400" stroke-width="1.40" stroke-linejoin="miter"/>
<text x="1136.41 1148.57 1168.31 1180.36" y="602.30" font-size="14.50">M1M2</text>
<text transform="matrix(0.17292 0 0 0.18809 1157.692 604.266)" x="0" y="0" font-size="100.0">~</text>
<path d="M1098.10 617.10H1126.80" stroke="#ffa500" stroke-width="2.10"/>
<path d="M1112.50 612.90L1113.44 615.80L1116.49 615.80L1114.03 617.60L1114.97 620.50L1112.50 618.70L1110.03 620.50L1110.97 617.60L1108.51 615.80L1111.56 615.80Z" fill="#ffa500" stroke="#ffa500" stroke-width="1.40" stroke-linejoin="bevel"/>
<text x="1136.41 1148.57 1168.31 1180.56" y="622.20" font-size="14.50">M1M3</text>
<text transform="matrix(0.17292 0 0 0.18809 1157.692 624.166)" x="0" y="0" font-size="100.0">~</text>
<path d="M1098.10 636.80H1126.80" stroke="#ffd700" stroke-width="2.10"/>
<path d="M1112.50 632.60L1113.44 635.50L1116.49 635.50L1114.03 637.30L1114.97 640.20L1112.50 638.40L1110.03 640.20L1110.97 637.30L1108.51 635.50L1111.56 635.50Z" fill="#ffd700" stroke="#ffd700" stroke-width="1.40" stroke-linejoin="bevel"/>
<text x="1136.41 1148.57 1168.31 1180.54" y="641.90" font-size="14.50">M1M4</text>
<text transform="matrix(0.17292 0 0 0.18809 1157.692 643.866)" x="0" y="0" font-size="100.0">~</text>
<path d="M1098.10 656.50H1126.80" stroke="#ff1493" stroke-width="2.10"/>
<circle cx="1112.50" cy="656.50" r="4.20" fill="#ff1493" stroke="#ff1493" stroke-width="1.40"/>
<text x="1136.41 1148.57 1168.31 1180.49" y="661.60" font-size="14.50">M1M5</text>
<text transform="matrix(0.17292 0 0 0.18809 1157.692 663.566)" x="0" y="0" font-size="100.0">~</text>
<g role="img" aria-label="(d) Interval 2: MAPE when sumodels using Nerual Network (NN) model">
<text class="sf" transform="matrix(0.35626 0 0 0.30770 714.034 1001.349)" x="0" y="0" font-size="100.0">(</text>
<text class="sfb" transform="matrix(0.32613 0 0 0.30130 724.478 1001.906)" x="0" y="0" font-size="100.0">d</text>
<text class="sf" transform="matrix(0.33484 0 0 0.30770 743.021 1001.349)" x="0" y="0" font-size="100.0">)</text>
<text class="sf" transform="matrix(0.31757 0 0 0.27333 768.853 1002.800)" x="0" y="0" font-size="100.0">I</text>
<text class="sf" transform="matrix(0.29534 0 0 0.24571 779.130 1002.800)" x="0" y="0" font-size="100.0">n</text>
<text class="sf" transform="matrix(0.32099 0 0 0.28657 794.135 1002.814)" x="0" y="0" font-size="100.0">t</text>
<text class="sf" transform="matrix(0.28132 0 0 0.25030 804.024 1002.850)" x="0" y="0" font-size="100.0">e</text>
<text class="sf" transform="matrix(0.29869 0 0 0.24571 816.408 1002.800)" x="0" y="0" font-size="100.0">r</text>
<text class="sf" transform="matrix(0.26287 0 0 0.24726 827.340 1002.853)" x="0" y="0" font-size="100.0">v</text>
<text class="sf" transform="matrix(0.30846 0 0 0.25132 840.987 1002.849)" x="0" y="0" font-size="100.0">a</text>
<text class="sf" transform="matrix(0.25565 0 0 0.26200 854.756 1002.800)" x="0" y="0" font-size="100.0">l</text>
<text class="sf" transform="matrix(0.26352 0 0 0.26355 874.235 1002.800)" x="0" y="0" font-size="100.0">2</text>
<text class="sf" transform="matrix(0.24693 0 0 0.23368 887.568 1002.469)" x="0" y="0" font-size="100.0">:</text>
<text class="sf" transform="matrix(0.28226 0 0 0.27333 905.261 1002.800)" x="0" y="0" font-size="100.0">M</text>
<text class="sf" transform="matrix(0.26930 0 0 0.28409 931.138 1002.800)" x="0" y="0" font-size="100.0">A</text>
<text class="sf" transform="matrix(0.33629 0 0 0.27333 951.262 1002.800)" x="0" y="0" font-size="100.0">P</text>
<text class="sf" transform="matrix(0.32369 0 0 0.27333 970.097 1002.800)" x="0" y="0" font-size="100.0">E</text>
<text class="sf" transform="matrix(0.26348 0 0 0.24726 1000.683 1002.853)" x="0" y="0" font-size="100.0">w</text>
<text class="sf" transform="matrix(0.29319 0 0 0.26200 1020.655 1002.800)" x="0" y="0" font-size="100.0">h</text>
<text class="sf" transform="matrix(0.28842 0 0 0.25030 1035.066 1002.850)" x="0" y="0" font-size="100.0">e</text>
<text class="sf" transform="matrix(0.30279 0 0 0.24571 1047.788 1002.800)" x="0" y="0" font-size="100.0">n</text>
<text class="sf" transform="matrix(0.29732 0 0 0.25030 1072.457 1002.850)" x="0" y="0" font-size="100.0">s</text>
<text class="sf" transform="matrix(0.30672 0 0 0.25327 1084.365 1002.847)" x="0" y="0" font-size="100.0">u</text>
<text class="sf" transform="matrix(0.30083 0 0 0.24571 1099.905 1002.800)" x="0" y="0" font-size="100.0">m</text>
<text class="sf" transform="matrix(0.29708 0 0 0.25030 1123.006 1002.850)" x="0" y="0" font-size="100.0">o</text>
<text class="sf" transform="matrix(0.31162 0 0 0.26255 1137.363 1002.838)" x="0" y="0" font-size="100.0">d</text>
<text class="sf" transform="matrix(0.29710 0 0 0.25030 1152.943 1002.850)" x="0" y="0" font-size="100.0">e</text>
<text class="sf" transform="matrix(0.27000 0 0 0.26200 1166.251 1002.800)" x="0" y="0" font-size="100.0">l</text>
<text class="sf" transform="matrix(0.29732 0 0 0.25030 1173.504 1002.850)" x="0" y="0" font-size="100.0">s</text>
<text class="sf" transform="matrix(0.29822 0 0 0.25327 721.607 1034.447)" x="0" y="0" font-size="100.0">u</text>
<text class="sf" transform="matrix(0.28909 0 0 0.25030 736.238 1034.450)" x="0" y="0" font-size="100.0">s</text>
<text class="sf" transform="matrix(0.25344 0 0 0.26471 747.705 1034.400)" x="0" y="0" font-size="100.0">i</text>
<text class="sf" transform="matrix(0.30327 0 0 0.24571 755.159 1034.400)" x="0" y="0" font-size="100.0">n</text>
<text class="sf" transform="matrix(0.28813 0 0 0.23691 769.892 1034.686)" x="0" y="0" font-size="100.0">g</text>
<text class="sf" transform="matrix(0.28567 0 0 0.27333 793.377 1034.400)" x="0" y="0" font-size="100.0">N</text>
<text class="sf" transform="matrix(0.29164 0 0 0.25030 813.887 1034.450)" x="0" y="0" font-size="100.0">e</text>
<text class="sf" transform="matrix(0.30964 0 0 0.24571 826.724 1034.400)" x="0" y="0" font-size="100.0">r</text>
<text class="sf" transform="matrix(0.30108 0 0 0.25327 837.959 1034.447)" x="0" y="0" font-size="100.0">u</text>
<text class="sf" transform="matrix(0.31977 0 0 0.25132 852.994 1034.449)" x="0" y="0" font-size="100.0">a</text>
<text class="sf" transform="matrix(0.26503 0 0 0.26200 867.267 1034.400)" x="0" y="0" font-size="100.0">l</text>
<text class="sf" transform="matrix(0.27921 0 0 0.27333 884.796 1034.400)" x="0" y="0" font-size="100.0">N</text>
<text class="sf" transform="matrix(0.28504 0 0 0.25030 904.841 1034.450)" x="0" y="0" font-size="100.0">e</text>
<text class="sf" transform="matrix(0.32523 0 0 0.28657 917.491 1034.414)" x="0" y="0" font-size="100.0">t</text>
<text class="sf" transform="matrix(0.26040 0 0 0.24726 928.333 1034.453)" x="0" y="0" font-size="100.0">w</text>
<text class="sf" transform="matrix(0.28501 0 0 0.25030 947.215 1034.450)" x="0" y="0" font-size="100.0">o</text>
<text class="sf" transform="matrix(0.30264 0 0 0.24571 961.264 1034.400)" x="0" y="0" font-size="100.0">r</text>
<text class="sf" transform="matrix(0.27495 0 0 0.26200 972.003 1034.400)" x="0" y="0" font-size="100.0">k</text>
<text class="sf" transform="matrix(0.26704 0 0 0.28895 996.926 1034.799)" x="0" y="0" font-size="100.0">(</text>
<text class="sf" transform="matrix(0.29925 0 0 0.27333 1006.635 1034.400)" x="0" y="0" font-size="100.0">N</text>
<text class="sf" transform="matrix(0.29925 0 0 0.27333 1028.536 1034.400)" x="0" y="0" font-size="100.0">N</text>
<text class="sf" transform="matrix(0.26704 0 0 0.28895 1051.181 1034.799)" x="0" y="0" font-size="100.0">)</text>
<text class="sf" transform="matrix(0.29803 0 0 0.24571 1070.174 1034.400)" x="0" y="0" font-size="100.0">m</text>
<text class="sf" transform="matrix(0.29432 0 0 0.25030 1093.061 1034.450)" x="0" y="0" font-size="100.0">o</text>
<text class="sf" transform="matrix(0.30873 0 0 0.26255 1107.285 1034.438)" x="0" y="0" font-size="100.0">d</text>
<text class="sf" transform="matrix(0.29434 0 0 0.25030 1122.719 1034.450)" x="0" y="0" font-size="100.0">e</text>
<text class="sf" transform="matrix(0.26749 0 0 0.26200 1135.904 1034.400)" x="0" y="0" font-size="100.0">l</text>
</g>
</svg>
</body></html>
